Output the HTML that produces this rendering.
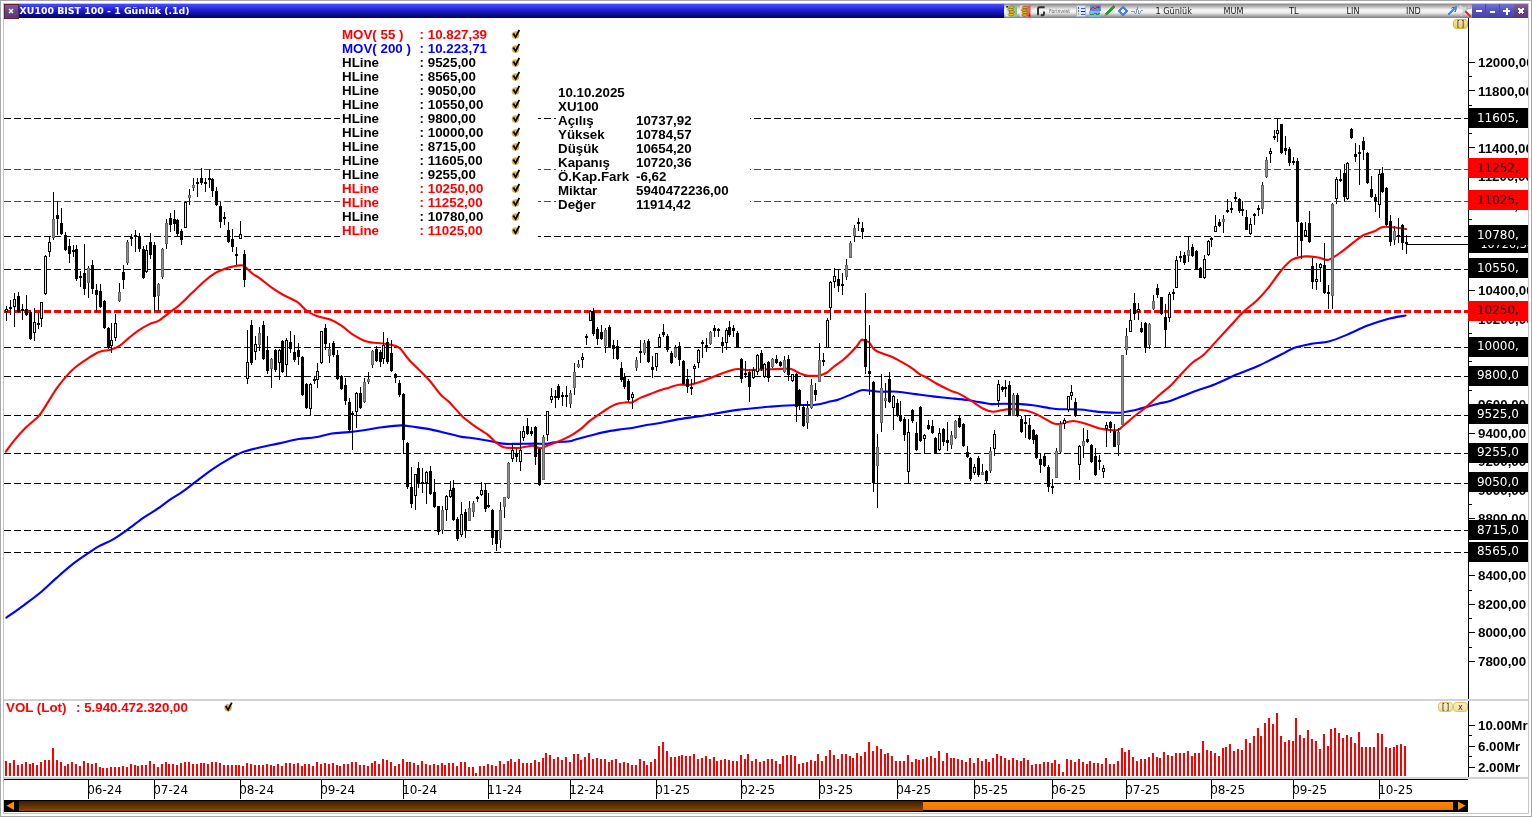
<!DOCTYPE html><html><head><meta charset="utf-8"><title>XU100 BIST 100 - 1 Günlük</title><style>html,body{margin:0;padding:0;background:#fff;overflow:hidden;}body{width:1532px;height:817px;position:relative;}svg{position:absolute;left:0;top:0;display:block;will-change:transform;}svg text{white-space:pre;}</style></head><body><svg width="1532" height="817" viewBox="0 0 1532 817" shape-rendering="crispEdges"><rect x="0" y="0" width="1532" height="817" fill="#ffffff"/><rect x="0.5" y="0.5" width="1531" height="816" fill="none" stroke="#a8a8a8" stroke-width="1"/><rect x="3.5" y="3.5" width="1525" height="810" fill="none" stroke="#c4c4c4" stroke-width="1"/><defs><clipPath id="cp"><rect x="4" y="18" width="1464" height="681"/></clipPath><clipPath id="cv"><rect x="4" y="701" width="1464" height="76"/></clipPath><clipPath id="cax"><rect x="1469" y="18" width="59" height="681"/></clipPath><clipPath id="cbx"><rect x="1469" y="18" width="50" height="681"/></clipPath><linearGradient id="gt" x1="0" y1="0" x2="0" y2="1"><stop offset="0" stop-color="#4c4cff"/><stop offset="0.45" stop-color="#1e1ed0"/><stop offset="1" stop-color="#00005a"/></linearGradient><linearGradient id="gtb" x1="0" y1="0" x2="0" y2="1"><stop offset="0" stop-color="#8a8a8a"/><stop offset="0.18" stop-color="#b8b8b8"/><stop offset="0.42" stop-color="#f6f6f6"/><stop offset="0.62" stop-color="#eeeeee"/><stop offset="0.85" stop-color="#a8a8a8"/><stop offset="1" stop-color="#7c7c7c"/></linearGradient><linearGradient id="gbtn" x1="0" y1="0" x2="0" y2="1"><stop offset="0" stop-color="#7474d4"/><stop offset="0.5" stop-color="#5252b8"/><stop offset="1" stop-color="#4040a8"/></linearGradient><linearGradient id="gcls" x1="0" y1="0" x2="0" y2="1"><stop offset="0" stop-color="#86609e"/><stop offset="0.5" stop-color="#684486"/><stop offset="1" stop-color="#5a3878"/></linearGradient><linearGradient id="gbr" x1="0" y1="0" x2="0" y2="1"><stop offset="0" stop-color="#3e1e00"/><stop offset="1" stop-color="#8c4600"/></linearGradient><linearGradient id="gor" x1="0" y1="0" x2="0" y2="1"><stop offset="0" stop-color="#ff8400"/><stop offset="1" stop-color="#ee7600"/></linearGradient><linearGradient id="gyb" x1="0" y1="0" x2="0" y2="1"><stop offset="0" stop-color="#fbf0c4"/><stop offset="1" stop-color="#f2dc98"/></linearGradient><linearGradient id="gyb2" x1="0" y1="0" x2="0" y2="1"><stop offset="0" stop-color="#f8e6a0"/><stop offset="1" stop-color="#e8c860"/></linearGradient></defs><rect x="4" y="4" width="1000" height="14" fill="url(#gt)"/><rect x="4" y="4" width="14" height="14" fill="url(#gcls)" stroke="#6a2030" stroke-width="1"/><path d="M9 9 L13 13 M13 9 L9 13" stroke="#ffffff" stroke-width="1.5" shape-rendering="geometricPrecision"/><text x="19.6" y="14" font-family="DejaVu Sans, sans-serif" font-weight="bold" font-size="9.37" fill="#ffffff">XU100 BIST 100 - 1 Günlük (.1d)</text><rect x="1004" y="4" width="468" height="14" fill="url(#gtb)"/><rect x="1472" y="4" width="42" height="14" fill="url(#gbtn)"/><rect x="1485" y="4" width="1" height="14" fill="#4848b0"/><rect x="1499" y="4" width="1" height="14" fill="#4848b0"/><rect x="1514" y="4" width="14" height="14" fill="url(#gcls)"/><rect x="1476" y="10" width="6" height="2" fill="#ffffff"/><rect x="1490" y="11" width="5" height="2" fill="#ffffff"/><rect x="1503" y="10" width="7" height="2" fill="#ffffff"/><rect x="1505.5" y="7.5" width="2" height="7" fill="#ffffff"/><path d="M1518.5 8.5 L1523.5 13.5 M1523.5 8.5 L1518.5 13.5" stroke="#ffffff" stroke-width="1.8"/><g shape-rendering="geometricPrecision"><defs><linearGradient id="ggi" x1="0" y1="0" x2="1" y2="0"><stop offset="0" stop-color="#eaf6ea"/><stop offset="1" stop-color="#7cc07c"/></linearGradient><linearGradient id="gri" x1="0" y1="0" x2="1" y2="0"><stop offset="0" stop-color="#ffe4e4"/><stop offset="1" stop-color="#f04848"/></linearGradient></defs><rect x="1005.5" y="5.5" width="11.5" height="11" fill="url(#ggi)"/><ellipse cx="1011.5" cy="7.2" rx="2.8" ry="1.3" fill="#f0c020" stroke="#6a5010" stroke-width="0.6"/><ellipse cx="1010.5" cy="9.6" rx="2.8" ry="1.3" fill="#f0c020" stroke="#6a5010" stroke-width="0.6"/><ellipse cx="1011.8" cy="12" rx="2.8" ry="1.3" fill="#f0c020" stroke="#6a5010" stroke-width="0.6"/><ellipse cx="1011" cy="14.6" rx="2.8" ry="1.3" fill="#f0c020" stroke="#6a5010" stroke-width="0.6"/><path d="M1006 6 L1008.5 6 L1007 8.5 Z" fill="#202020"/><rect x="1020" y="5.5" width="10.5" height="11" fill="url(#gri)"/><ellipse cx="1025" cy="7.6" rx="2.8" ry="1.3" fill="#e0b020" stroke="#6a5010" stroke-width="0.6"/><ellipse cx="1024.2" cy="10.2" rx="2.8" ry="1.3" fill="#e0b020" stroke="#6a5010" stroke-width="0.6"/><ellipse cx="1025.2" cy="12.6" rx="2.8" ry="1.3" fill="#e0b020" stroke="#6a5010" stroke-width="0.6"/><ellipse cx="1024.6" cy="15" rx="2.8" ry="1.3" fill="#e0b020" stroke="#6a5010" stroke-width="0.6"/><path d="M1028 16.5 L1029.5 13 L1030.5 16.5 Z" fill="#e00000"/><path d="M1038 15.2 L1038 8.8 Q1038 7.3 1039.5 7.3 L1044.6 7.3" stroke="#2c2c2c" stroke-width="1.9" fill="none" stroke-linejoin="round"/><path d="M1040.8 15.2 L1042.4 15.2 Q1044 15.2 1044 13.6 L1044 11.6" stroke="#2c2c2c" stroke-width="1.9" fill="none"/></g><text x="1049" y="13" font-family="DejaVu Sans, sans-serif" font-size="5.6" textLength="21" lengthAdjust="spacingAndGlyphs" fill="#606060">Forinvest</text><rect x="1076.5" y="5.5" width="9" height="10.5" fill="#dbe6f5" stroke="#a8b8d0" stroke-width="1"/><circle cx="1078.5" cy="8" r="1.1" fill="#3050d0"/><circle cx="1078.5" cy="11" r="1.1" fill="#e05030"/><circle cx="1078.5" cy="14" r="1.1" fill="#e0c020"/><rect x="1080.5" y="7.5" width="4" height="1" fill="#4060a0"/><rect x="1080.5" y="10.5" width="4" height="1.5" fill="#203060"/><rect x="1080.5" y="13.5" width="4" height="1" fill="#4060a0"/><rect x="1089.5" y="5" width="11" height="5.5" fill="#5c8ae0"/><rect x="1089" y="11" width="11" height="5.5" fill="#8cb0ec"/><path d="M1090 9.5 L1093 7.5 L1095 9 L1098 6.5 L1100 8" stroke="#e02020" stroke-width="1" fill="none"/><path d="M1090 14 L1093 15 L1095 13.5 L1098 14.5 L1100 13" stroke="#20a020" stroke-width="1" fill="none"/><path d="M1104 16.5 L1105 13.5 L1112.5 6 L1114.5 8 L1107 15.5 Z" fill="#22a030"/><path d="M1112.5 6 L1113.5 5 L1115.5 7 L1114.5 8 Z" fill="#e04040"/><path d="M1104 16.5 L1105 13.5 L1107 15.5 Z" fill="#f08040"/><path d="M1122.5 5.5 L1128 11 L1122.5 16.5 L1117 11 Z" fill="#5080e0"/><path d="M1122.5 8.5 L1125 11 L1122.5 13.5 L1120 11 Z" fill="#f4f4f4"/><path d="M1131 11 L1134 11 L1135.5 13.5 L1137.5 6.5 L1139 14 L1140.5 10.5 L1142.5 9.5" stroke="#7890b8" stroke-width="0.9" fill="none"/><text x="1155.5" y="14.3" font-family="DejaVu Sans Condensed, DejaVu Sans, sans-serif" font-stretch="condensed" font-size="9" fill="#202020">1 Günlük</text><text x="1223.5" y="14.3" font-family="DejaVu Sans Condensed, DejaVu Sans, sans-serif" font-stretch="condensed" font-size="9" fill="#202020">MUM</text><text x="1289" y="14.3" font-family="DejaVu Sans Condensed, DejaVu Sans, sans-serif" font-stretch="condensed" font-size="9" fill="#202020">TL</text><text x="1346.5" y="14.3" font-family="DejaVu Sans Condensed, DejaVu Sans, sans-serif" font-stretch="condensed" font-size="9" fill="#202020">LIN</text><text x="1406" y="14.3" font-family="DejaVu Sans Condensed, DejaVu Sans, sans-serif" font-stretch="condensed" font-size="9" fill="#202020">IND</text><path d="M1448 15 L1453.5 9.5 L1451.5 7.5 L1456.5 6.5 L1455.5 11.5 L1453.5 9.5" fill="#4a88e8" stroke="#2a68c8" stroke-width="0.6"/><path d="M1448 15 L1453.5 9.5" stroke="#4a88e8" stroke-width="2.2"/><path d="M1460 6 L1471 17" stroke="#d8d8d8" stroke-width="1.8"/><path d="M1460 16 L1468 8" stroke="#c8c8c8" stroke-width="1.5"/><path d="M1465.5 11.5 L1471 17" stroke="#e03828" stroke-width="2.4"/><circle cx="1469" cy="7" r="1.6" fill="none" stroke="#b0b0b0" stroke-width="1"/><rect x="4" y="699" width="1524" height="2" fill="#d2d2d2"/><rect x="4" y="777" width="1524" height="2" fill="#d2d2d2"/><rect x="4" y="779" width="1464" height="1" fill="#000000"/><rect x="1468" y="18" width="1" height="681" fill="#000"/><rect x="1468" y="701" width="1" height="76" fill="#000"/><g clip-path="url(#cp)"><line x1="4" y1="118.5" x2="1468" y2="118.5" stroke="#000" stroke-width="1" stroke-dasharray="7 3"/><line x1="4" y1="169.5" x2="1468" y2="169.5" stroke="#ff0000" stroke-width="1" stroke-dasharray="7 3"/><line x1="4" y1="201.5" x2="1468" y2="201.5" stroke="#ff0000" stroke-width="1" stroke-dasharray="7 3"/><line x1="4" y1="236.5" x2="1468" y2="236.5" stroke="#000" stroke-width="1" stroke-dasharray="7 3"/><line x1="4" y1="269.5" x2="1468" y2="269.5" stroke="#000" stroke-width="1" stroke-dasharray="7 3"/><line x1="4" y1="347.5" x2="1468" y2="347.5" stroke="#000" stroke-width="1" stroke-dasharray="7 3"/><line x1="4" y1="376.5" x2="1468" y2="376.5" stroke="#000" stroke-width="1" stroke-dasharray="7 3"/><line x1="4" y1="415.5" x2="1468" y2="415.5" stroke="#000" stroke-width="1" stroke-dasharray="7 3"/><line x1="4" y1="453.5" x2="1468" y2="453.5" stroke="#000" stroke-width="1" stroke-dasharray="7 3"/><line x1="4" y1="483.5" x2="1468" y2="483.5" stroke="#000" stroke-width="1" stroke-dasharray="7 3"/><line x1="4" y1="530.5" x2="1468" y2="530.5" stroke="#000" stroke-width="1" stroke-dasharray="7 3"/><line x1="4" y1="552.5" x2="1468" y2="552.5" stroke="#000" stroke-width="1" stroke-dasharray="7 3"/><line x1="4" y1="311.5" x2="1468" y2="311.5" stroke="#ff0000" stroke-width="3" stroke-dasharray="7 3"/></g><rect x="340" y="22" width="198" height="217" fill="#ffffff"/><rect x="556" y="82" width="194" height="131" fill="#ffffff"/><g clip-path="url(#cp)"><path d="M6.4,617.7 C9.4,615.55 18.62,609.08 24.4,604.8 C30.18,600.52 35.73,596.48 41.1,592 C46.47,587.52 51.23,582.62 56.6,577.9 C61.97,573.18 67.95,567.87 73.3,563.7 C78.65,559.53 84.42,555.82 88.7,552.9 C92.98,549.98 94.93,548.47 99,546.2 C103.07,543.93 108.38,542.03 113.1,539.3 C117.82,536.57 122.15,533.45 127.3,529.8 C132.45,526.15 138.87,520.97 144,517.4 C149.13,513.83 153.82,511.32 158.1,508.4 C162.38,505.48 165.62,502.68 169.7,499.9 C173.78,497.12 178.32,494.7 182.6,491.7 C186.88,488.7 190.27,485.75 195.4,481.9 C200.53,478.05 207.83,472.4 213.4,468.6 C218.97,464.8 223.87,461.85 228.8,459.1 C233.73,456.35 237.85,454.03 243,452.1 C248.15,450.17 253.7,448.95 259.7,447.5 C265.7,446.05 272.53,444.82 279,443.4 C285.47,441.98 292.47,440.02 298.5,439 C304.53,437.98 309.63,438.22 315.2,437.3 C320.77,436.38 326.33,434.37 331.9,433.5 C337.47,432.63 343.03,432.68 348.6,432.1 C354.17,431.52 359.73,430.8 365.3,430 C370.87,429.2 376.08,428.07 382,427.3 C387.92,426.53 395.57,425.48 400.8,425.4 C406.03,425.32 408.87,426.22 413.4,426.8 C417.93,427.38 422.78,427.92 428,428.9 C433.22,429.88 439.13,431.37 444.7,432.7 C450.27,434.03 457.18,436.07 461.4,436.9 C465.62,437.73 465.52,437.07 470,437.7 C474.48,438.33 482.87,439.72 488.3,440.7 C493.73,441.68 498.03,443.07 502.6,443.6 C507.17,444.13 512.43,443.87 515.7,443.9 C518.97,443.93 518.93,443.85 522.2,443.8 C525.47,443.75 531.48,443.58 535.3,443.6 C539.12,443.62 541.83,444.12 545.1,443.9 C548.37,443.68 550.77,442.73 554.9,442.3 C559.03,441.87 566.6,441.72 569.9,441.3 C573.2,440.88 571.45,440.72 574.7,439.8 C577.95,438.88 584.5,437.08 589.4,435.8 C594.3,434.52 599.22,433.13 604.1,432.1 C608.98,431.07 613.82,430.33 618.7,429.6 C623.58,428.87 628.5,428.5 633.4,427.7 C638.3,426.9 643.67,425.58 648.1,424.8 C652.53,424.02 655.25,423.87 660,423 C664.75,422.13 669.2,420.85 676.6,419.6 C684,418.35 694.22,417.12 704.4,415.5 C714.58,413.88 726.6,411.38 737.7,409.9 C748.8,408.42 761.75,407.38 771,406.6 C780.25,405.82 785.8,405.52 793.2,405.2 C800.6,404.88 809.27,405.3 815.4,404.7 C821.53,404.1 826.12,402.48 830,401.6 C833.88,400.72 835.1,400.63 838.7,399.4 C842.3,398.17 847.83,395.72 851.6,394.2 C855.37,392.68 858.43,390.92 861.3,390.3 C864.17,389.68 865.68,390.27 868.8,390.5 C871.92,390.73 875.2,391.5 880,391.7 C884.8,391.9 891.72,391.3 897.6,391.7 C903.48,392.1 909.42,393.32 915.3,394.1 C921.18,394.88 927.03,395.72 932.9,396.4 C938.77,397.08 944.63,397.57 950.5,398.2 C956.37,398.83 962.22,399.37 968.1,400.2 C973.98,401.03 981.88,402.55 985.8,403.2 C989.72,403.85 988.67,404.02 991.6,404.1 C994.53,404.18 998.5,403.7 1003.4,403.7 C1008.3,403.7 1016.1,403.85 1021,404.1 C1025.9,404.35 1027.9,404.52 1032.8,405.2 C1037.7,405.88 1045.87,407.53 1050.4,408.2 C1054.93,408.87 1055.07,408.98 1060,409.2 C1064.93,409.42 1074.67,409.2 1080,409.5 C1085.33,409.8 1088.37,410.57 1092,411 C1095.63,411.43 1097.13,411.82 1101.8,412.1 C1106.47,412.38 1115.3,412.88 1120,412.7 C1124.7,412.52 1126.95,411.58 1130,411 C1133.05,410.42 1134.97,410.03 1138.3,409.2 C1141.63,408.37 1146.4,406.98 1150,406 C1153.6,405.02 1156.4,404.18 1159.9,403.3 C1163.4,402.42 1165.48,402.6 1171,400.7 C1176.52,398.8 1185.65,394.65 1193,391.9 C1200.35,389.15 1207.75,387.13 1215.1,384.2 C1222.45,381.27 1229.77,377.42 1237.1,374.3 C1244.43,371.18 1251.77,368.8 1259.1,365.5 C1266.43,362.2 1275.22,357.45 1281.1,354.5 C1286.98,351.55 1289.62,349.53 1294.4,347.8 C1299.18,346.07 1303.93,345.2 1309.8,344.1 C1315.67,343 1323.37,342.78 1329.6,341.2 C1335.83,339.62 1340.97,337.17 1347.2,334.6 C1353.43,332.03 1360.38,328.37 1367,325.8 C1373.62,323.23 1380.47,320.92 1386.9,319.2 C1393.33,317.48 1402.48,316.12 1405.6,315.5" fill="none" stroke="#0000ff" stroke-width="2.1" stroke-linejoin="round" stroke-linecap="round" shape-rendering="geometricPrecision"/><path d="M5.9,451.7 C7.17,449.97 10.22,445.28 13.5,441.3 C16.78,437.32 21.35,432.07 25.6,427.8 C29.85,423.53 35.42,419.73 39,415.7 C42.58,411.67 44.17,408.1 47.1,403.6 C50.03,399.1 53.45,393.2 56.6,388.7 C59.75,384.2 62.87,380.18 66,376.6 C69.13,373.02 71.58,370.33 75.4,367.2 C79.22,364.07 84.85,360.37 88.9,357.8 C92.95,355.23 96.1,353.15 99.7,351.8 C103.3,350.45 107.13,350.73 110.5,349.7 C113.87,348.67 116.77,347.62 119.9,345.6 C123.03,343.58 126.17,340.15 129.3,337.6 C132.43,335.05 135.33,332.55 138.7,330.3 C142.07,328.05 146.13,325.72 149.5,324.1 C152.87,322.48 155.75,322.4 158.9,320.6 C162.05,318.8 165.02,315.87 168.4,313.3 C171.78,310.73 175.38,308.48 179.2,305.2 C183.02,301.92 187.05,297.63 191.3,293.6 C195.55,289.57 200.67,284.45 204.7,281 C208.73,277.55 211.9,275.02 215.5,272.9 C219.1,270.78 223.38,269.37 226.3,268.3 C229.22,267.23 230.67,266.98 233,266.5 C235.33,266.02 238.42,265.45 240.3,265.4 C242.18,265.35 242.3,264.85 244.3,266.2 C246.3,267.55 249.65,271.43 252.3,273.5 C254.95,275.57 257.02,276.28 260.2,278.6 C263.38,280.92 267.68,284.75 271.4,287.4 C275.12,290.05 278.27,292.12 282.5,294.5 C286.73,296.88 292.82,299.03 296.8,301.7 C300.78,304.37 303.08,308.12 306.4,310.5 C309.72,312.88 312.73,314.5 316.7,316 C320.67,317.5 326.08,317.9 330.2,319.5 C334.32,321.1 337.68,323.13 341.4,325.6 C345.12,328.07 348.27,331.65 352.5,334.3 C356.73,336.95 361.77,339.97 366.8,341.5 C371.83,343.03 378.18,342.83 382.7,343.5 C387.22,344.17 390.98,344.65 393.9,345.5 C396.82,346.35 397.65,346.18 400.2,348.6 C402.75,351.02 404.57,354.97 409.2,360 C413.83,365.03 422.78,373.05 428,378.8 C433.22,384.55 437.02,390.67 440.5,394.5 C443.98,398.33 445.42,398.32 448.9,401.8 C452.38,405.28 457.88,411.92 461.4,415.4 C464.92,418.88 467.48,420.72 470,422.7 C472.52,424.68 473.45,425.23 476.5,427.3 C479.55,429.37 485.03,432.55 488.3,435.1 C491.57,437.65 493.5,440.58 496.1,442.6 C498.7,444.62 501.18,446.32 503.9,447.2 C506.62,448.08 509.57,447.82 512.4,447.9 C515.23,447.98 518.18,447.98 520.9,447.7 C523.62,447.42 526.63,446.5 528.7,446.2 C530.77,445.9 531.67,445.62 533.3,445.9 C534.93,446.18 536.97,447.57 538.5,447.9 C540.03,448.23 540.87,448.35 542.5,447.9 C544.13,447.45 545.92,446.18 548.3,445.2 C550.68,444.22 553.2,443.52 556.8,442 C560.4,440.48 565.93,438.23 569.9,436.1 C573.87,433.97 577.35,431.7 580.6,429.2 C583.85,426.7 586.47,423.48 589.4,421.1 C592.33,418.72 595.27,416.92 598.2,414.9 C601.13,412.88 604.07,410.78 607,409 C609.93,407.22 612.62,405.3 615.8,404.2 C618.98,403.1 623.4,402.7 626.1,402.4 C628.8,402.1 629.55,403.2 632,402.4 C634.45,401.6 637.87,398.95 640.8,397.6 C643.73,396.25 646.4,395.52 649.6,394.3 C652.8,393.08 656.78,391.4 660,390.3 C663.22,389.2 665.75,388.63 668.9,387.7 C672.05,386.77 675.38,385.2 678.9,384.7 C682.42,384.2 685.75,385.4 690,384.7 C694.25,384 699.78,382.12 704.4,380.5 C709.02,378.88 712.52,376.88 717.7,375 C722.88,373.12 730.32,370.03 735.5,369.2 C740.68,368.37 743.82,369.97 748.8,370 C753.78,370.03 759.85,369.58 765.4,369.4 C770.95,369.22 777.83,368.98 782.1,368.9 C786.37,368.82 788.23,368.25 791,368.9 C793.77,369.55 796.12,371.7 798.7,372.8 C801.28,373.9 803.35,374.98 806.5,375.5 C809.65,376.02 815.35,375.9 817.6,375.9 C819.85,375.9 818.43,376.07 820,375.5 C821.57,374.93 824.67,374 827,372.5 C829.33,371 831.33,368.58 834,366.5 C836.67,364.42 840.25,362.25 843,360 C845.75,357.75 848.17,355.33 850.5,353 C852.83,350.67 855.18,348.2 857,346 C858.82,343.8 860.07,340.63 861.4,339.8 C862.73,338.97 863.73,340.58 865,341 C866.27,341.42 867.67,341.13 869,342.3 C870.33,343.47 871.75,346.55 873,348 C874.25,349.45 874.67,350 876.5,351 C878.33,352 881.45,353.03 884,354 C886.55,354.97 889.08,355.58 891.8,356.8 C894.52,358.02 897.03,359.45 900.3,361.3 C903.57,363.15 908.13,365.72 911.4,367.9 C914.67,370.08 917.68,372.97 919.9,374.4 C922.12,375.83 921.95,374.98 924.7,376.5 C927.45,378.02 932.1,381.15 936.4,383.5 C940.7,385.85 946.58,388.83 950.5,390.6 C954.42,392.37 956.37,392.35 959.9,394.1 C963.43,395.85 967.78,398.65 971.7,401.1 C975.62,403.55 979.88,407.03 983.4,408.8 C986.92,410.57 989.87,411.45 992.8,411.7 C995.73,411.95 998.25,410.73 1001,410.3 C1003.75,409.87 1006.75,409.25 1009.3,409.1 C1011.85,408.95 1013.37,409.12 1016.3,409.4 C1019.23,409.68 1023.57,410.02 1026.9,410.8 C1030.23,411.58 1032.97,412.58 1036.3,414.1 C1039.63,415.62 1043.97,418.33 1046.9,419.9 C1049.83,421.47 1051.72,422.82 1053.9,423.5 C1056.08,424.18 1056.82,424.42 1060,424 C1063.18,423.58 1068.83,421.08 1073,421 C1077.17,420.92 1080.5,422.25 1085,423.5 C1089.5,424.75 1095.83,427.42 1100,428.5 C1104.17,429.58 1107,429.75 1110,430 C1113,430.25 1115.83,430.67 1118,430 C1120.17,429.33 1120,428.5 1123,426 C1126,423.5 1132.33,418 1136,415 C1139.67,412 1141,411.42 1145,408 C1149,404.58 1155.67,398.28 1160,394.5 C1164.33,390.72 1167.33,388.85 1171,385.3 C1174.67,381.75 1178.33,377.05 1182,373.2 C1185.67,369.35 1189.33,365.32 1193,362.2 C1196.67,359.08 1199.95,358.18 1204,354.5 C1208.05,350.82 1212.88,344.88 1217.3,340.1 C1221.72,335.32 1226.1,330.57 1230.5,325.8 C1234.9,321.03 1239.3,315.72 1243.7,311.5 C1248.1,307.28 1252.87,304.35 1256.9,300.5 C1260.93,296.65 1263.87,293.37 1267.9,288.4 C1271.93,283.43 1277.05,275.48 1281.1,270.7 C1285.15,265.92 1288.15,262.08 1292.2,259.7 C1296.25,257.32 1301,256.77 1305.4,256.4 C1309.8,256.03 1314.75,256.95 1318.6,257.5 C1322.45,258.05 1324.47,260.8 1328.5,259.7 C1332.53,258.6 1338.58,253.83 1342.8,250.9 C1347.02,247.97 1350.6,244.58 1353.8,242.1 C1357,239.62 1359.63,237.43 1362,236 C1364.37,234.57 1365.83,234.33 1368,233.5 C1370.17,232.67 1372.5,232.08 1375,231 C1377.5,229.92 1379.67,227.58 1383,227 C1386.33,226.42 1391.17,227.17 1395,227.5 C1398.83,227.83 1404.17,228.75 1406,229" fill="none" stroke="#ff0000" stroke-width="2.1" stroke-linejoin="round" stroke-linecap="round" shape-rendering="geometricPrecision"/><rect x="6" y="306" width="1" height="15" fill="#000"/><rect x="5" y="309" width="3" height="3" fill="#000"/><rect x="6" y="310" width="1" height="1" fill="#e8e8e8"/><rect x="10" y="300" width="1" height="15" fill="#000"/><rect x="9" y="307" width="3" height="2" fill="#000"/><rect x="14" y="293" width="1" height="34" fill="#000"/><rect x="13" y="299" width="3" height="8" fill="#000"/><rect x="14" y="300" width="1" height="6" fill="#e8e8e8"/><rect x="18" y="292" width="1" height="21" fill="#000"/><rect x="17" y="296" width="3" height="16" fill="#000"/><rect x="22" y="304" width="1" height="16" fill="#000"/><rect x="21" y="309" width="3" height="2" fill="#000"/><rect x="26" y="295" width="1" height="21" fill="#000"/><rect x="25" y="309" width="3" height="6" fill="#000"/><rect x="30" y="310" width="1" height="30" fill="#000"/><rect x="29" y="312" width="3" height="27" fill="#000"/><rect x="34" y="308" width="1" height="33" fill="#000"/><rect x="33" y="322" width="3" height="11" fill="#000"/><rect x="34" y="323" width="1" height="9" fill="#e8e8e8"/><rect x="38" y="313" width="1" height="16" fill="#000"/><rect x="37" y="323" width="3" height="2" fill="#000"/><rect x="41" y="302" width="1" height="25" fill="#000"/><rect x="40" y="302" width="3" height="17" fill="#000"/><rect x="41" y="303" width="1" height="15" fill="#e8e8e8"/><rect x="45" y="255" width="1" height="40" fill="#000"/><rect x="44" y="256" width="3" height="38" fill="#000"/><rect x="45" y="257" width="1" height="36" fill="#e8e8e8"/><rect x="49" y="237" width="1" height="20" fill="#000"/><rect x="48" y="242" width="3" height="10" fill="#000"/><rect x="49" y="243" width="1" height="8" fill="#e8e8e8"/><rect x="53" y="192" width="1" height="48" fill="#000"/><rect x="52" y="219" width="3" height="19" fill="#686868"/><rect x="53" y="220" width="1" height="17" fill="#909090"/><rect x="57" y="201" width="1" height="34" fill="#000"/><rect x="56" y="215" width="3" height="4" fill="#000"/><rect x="61" y="208" width="1" height="27" fill="#000"/><rect x="60" y="223" width="3" height="11" fill="#000"/><rect x="65" y="232" width="1" height="19" fill="#000"/><rect x="64" y="235" width="3" height="15" fill="#000"/><rect x="69" y="239" width="1" height="24" fill="#000"/><rect x="68" y="246" width="3" height="8" fill="#000"/><rect x="73" y="245" width="1" height="12" fill="#000"/><rect x="72" y="250" width="3" height="2" fill="#000"/><rect x="76" y="245" width="1" height="36" fill="#000"/><rect x="75" y="249" width="3" height="30" fill="#000"/><rect x="80" y="271" width="1" height="16" fill="#000"/><rect x="79" y="276" width="3" height="2" fill="#000"/><rect x="84" y="244" width="1" height="51" fill="#000"/><rect x="83" y="273" width="3" height="16" fill="#000"/><rect x="88" y="266" width="1" height="32" fill="#000"/><rect x="87" y="268" width="3" height="15" fill="#686868"/><rect x="88" y="269" width="1" height="13" fill="#909090"/><rect x="92" y="260" width="1" height="34" fill="#000"/><rect x="91" y="265" width="3" height="24" fill="#000"/><rect x="96" y="284" width="1" height="28" fill="#000"/><rect x="95" y="290" width="3" height="5" fill="#000"/><rect x="100" y="284" width="1" height="24" fill="#000"/><rect x="99" y="291" width="3" height="16" fill="#000"/><rect x="104" y="300" width="1" height="29" fill="#000"/><rect x="103" y="301" width="3" height="27" fill="#000"/><rect x="108" y="327" width="1" height="22" fill="#000"/><rect x="107" y="328" width="3" height="19" fill="#000"/><rect x="111" y="323" width="1" height="30" fill="#000"/><rect x="110" y="340" width="3" height="6" fill="#000"/><rect x="111" y="341" width="1" height="4" fill="#e8e8e8"/><rect x="115" y="314" width="1" height="27" fill="#000"/><rect x="114" y="323" width="3" height="15" fill="#000"/><rect x="115" y="324" width="1" height="13" fill="#e8e8e8"/><rect x="119" y="283" width="1" height="19" fill="#000"/><rect x="118" y="292" width="3" height="9" fill="#686868"/><rect x="119" y="293" width="1" height="7" fill="#909090"/><rect x="123" y="265" width="1" height="24" fill="#000"/><rect x="122" y="272" width="3" height="8" fill="#000"/><rect x="127" y="240" width="1" height="25" fill="#000"/><rect x="126" y="242" width="3" height="21" fill="#686868"/><rect x="127" y="243" width="1" height="19" fill="#909090"/><rect x="131" y="234" width="1" height="12" fill="#000"/><rect x="130" y="237" width="3" height="2" fill="#000"/><rect x="135" y="230" width="1" height="22" fill="#000"/><rect x="134" y="235" width="3" height="2" fill="#000"/><rect x="139" y="233" width="1" height="19" fill="#000"/><rect x="138" y="236" width="3" height="13" fill="#000"/><rect x="143" y="246" width="1" height="33" fill="#000"/><rect x="142" y="249" width="3" height="29" fill="#000"/><rect x="146" y="245" width="1" height="28" fill="#000"/><rect x="145" y="250" width="3" height="22" fill="#000"/><rect x="146" y="251" width="1" height="20" fill="#e8e8e8"/><rect x="150" y="233" width="1" height="26" fill="#000"/><rect x="149" y="242" width="3" height="13" fill="#000"/><rect x="154" y="242" width="1" height="69" fill="#000"/><rect x="153" y="245" width="3" height="52" fill="#000"/><rect x="158" y="283" width="1" height="28" fill="#000"/><rect x="157" y="284" width="3" height="12" fill="#686868"/><rect x="158" y="285" width="1" height="10" fill="#909090"/><rect x="162" y="248" width="1" height="31" fill="#000"/><rect x="161" y="249" width="3" height="28" fill="#686868"/><rect x="162" y="250" width="1" height="26" fill="#909090"/><rect x="166" y="219" width="1" height="30" fill="#000"/><rect x="165" y="223" width="3" height="21" fill="#686868"/><rect x="166" y="224" width="1" height="19" fill="#909090"/><rect x="170" y="213" width="1" height="19" fill="#000"/><rect x="169" y="218" width="3" height="7" fill="#000"/><rect x="174" y="210" width="1" height="21" fill="#000"/><rect x="173" y="219" width="3" height="5" fill="#000"/><rect x="177" y="219" width="1" height="17" fill="#000"/><rect x="176" y="220" width="3" height="14" fill="#000"/><rect x="181" y="229" width="1" height="16" fill="#000"/><rect x="180" y="231" width="3" height="9" fill="#000"/><rect x="185" y="201" width="1" height="27" fill="#000"/><rect x="184" y="202" width="3" height="26" fill="#000"/><rect x="185" y="203" width="1" height="24" fill="#e8e8e8"/><rect x="189" y="189" width="1" height="16" fill="#000"/><rect x="188" y="195" width="3" height="3" fill="#686868"/><rect x="189" y="196" width="1" height="1" fill="#909090"/><rect x="193" y="178" width="1" height="13" fill="#000"/><rect x="192" y="185" width="3" height="3" fill="#686868"/><rect x="193" y="186" width="1" height="1" fill="#909090"/><rect x="197" y="178" width="1" height="19" fill="#000"/><rect x="196" y="182" width="3" height="2" fill="#000"/><rect x="201" y="168" width="1" height="17" fill="#000"/><rect x="200" y="178" width="3" height="5" fill="#000"/><rect x="205" y="178" width="1" height="14" fill="#000"/><rect x="204" y="182" width="3" height="2" fill="#000"/><rect x="209" y="169" width="1" height="19" fill="#000"/><rect x="208" y="178" width="3" height="2" fill="#000"/><rect x="212" y="178" width="1" height="19" fill="#000"/><rect x="211" y="179" width="3" height="12" fill="#000"/><rect x="216" y="187" width="1" height="19" fill="#000"/><rect x="215" y="191" width="3" height="14" fill="#000"/><rect x="220" y="202" width="1" height="26" fill="#000"/><rect x="219" y="206" width="3" height="16" fill="#000"/><rect x="224" y="212" width="1" height="13" fill="#000"/><rect x="223" y="217" width="3" height="2" fill="#000"/><rect x="228" y="222" width="1" height="21" fill="#000"/><rect x="227" y="230" width="3" height="12" fill="#000"/><rect x="232" y="229" width="1" height="23" fill="#000"/><rect x="231" y="239" width="3" height="8" fill="#000"/><rect x="236" y="247" width="1" height="18" fill="#000"/><rect x="235" y="254" width="3" height="2" fill="#000"/><rect x="240" y="221" width="1" height="18" fill="#000"/><rect x="239" y="234" width="3" height="5" fill="#000"/><rect x="240" y="235" width="1" height="3" fill="#e8e8e8"/><rect x="244" y="250" width="1" height="37" fill="#000"/><rect x="243" y="254" width="3" height="26" fill="#000"/><rect x="247" y="330" width="1" height="54" fill="#000"/><rect x="246" y="362" width="3" height="17" fill="#000"/><rect x="247" y="363" width="1" height="15" fill="#e8e8e8"/><rect x="251" y="320" width="1" height="45" fill="#000"/><rect x="250" y="325" width="3" height="38" fill="#000"/><rect x="255" y="336" width="1" height="24" fill="#000"/><rect x="254" y="344" width="3" height="8" fill="#000"/><rect x="255" y="345" width="1" height="6" fill="#e8e8e8"/><rect x="259" y="327" width="1" height="24" fill="#000"/><rect x="258" y="333" width="3" height="12" fill="#686868"/><rect x="259" y="334" width="1" height="10" fill="#909090"/><rect x="263" y="321" width="1" height="39" fill="#000"/><rect x="262" y="325" width="3" height="34" fill="#000"/><rect x="267" y="336" width="1" height="38" fill="#000"/><rect x="266" y="350" width="3" height="21" fill="#000"/><rect x="271" y="358" width="1" height="30" fill="#000"/><rect x="270" y="359" width="3" height="10" fill="#686868"/><rect x="271" y="360" width="1" height="8" fill="#909090"/><rect x="275" y="349" width="1" height="23" fill="#000"/><rect x="274" y="350" width="3" height="20" fill="#000"/><rect x="279" y="349" width="1" height="31" fill="#000"/><rect x="278" y="350" width="3" height="13" fill="#000"/><rect x="279" y="351" width="1" height="11" fill="#e8e8e8"/><rect x="282" y="340" width="1" height="33" fill="#000"/><rect x="281" y="341" width="3" height="31" fill="#000"/><rect x="286" y="338" width="1" height="38" fill="#000"/><rect x="285" y="340" width="3" height="25" fill="#000"/><rect x="286" y="341" width="1" height="23" fill="#e8e8e8"/><rect x="290" y="331" width="1" height="22" fill="#000"/><rect x="289" y="342" width="3" height="7" fill="#000"/><rect x="294" y="335" width="1" height="27" fill="#000"/><rect x="293" y="352" width="3" height="8" fill="#000"/><rect x="298" y="343" width="1" height="22" fill="#000"/><rect x="297" y="350" width="3" height="7" fill="#000"/><rect x="302" y="356" width="1" height="40" fill="#000"/><rect x="301" y="357" width="3" height="38" fill="#000"/><rect x="306" y="383" width="1" height="26" fill="#000"/><rect x="305" y="384" width="3" height="24" fill="#000"/><rect x="310" y="383" width="1" height="33" fill="#000"/><rect x="309" y="384" width="3" height="25" fill="#000"/><rect x="310" y="385" width="1" height="23" fill="#e8e8e8"/><rect x="314" y="377" width="1" height="7" fill="#000"/><rect x="313" y="379" width="3" height="2" fill="#000"/><rect x="317" y="363" width="1" height="25" fill="#000"/><rect x="316" y="371" width="3" height="9" fill="#000"/><rect x="317" y="372" width="1" height="7" fill="#e8e8e8"/><rect x="321" y="331" width="1" height="33" fill="#000"/><rect x="320" y="331" width="3" height="32" fill="#000"/><rect x="321" y="332" width="1" height="30" fill="#e8e8e8"/><rect x="325" y="324" width="1" height="26" fill="#000"/><rect x="324" y="328" width="3" height="16" fill="#000"/><rect x="329" y="343" width="1" height="20" fill="#000"/><rect x="328" y="349" width="3" height="7" fill="#686868"/><rect x="329" y="350" width="1" height="5" fill="#909090"/><rect x="333" y="341" width="1" height="16" fill="#000"/><rect x="332" y="343" width="3" height="12" fill="#000"/><rect x="337" y="350" width="1" height="30" fill="#000"/><rect x="336" y="355" width="3" height="24" fill="#000"/><rect x="341" y="375" width="1" height="15" fill="#000"/><rect x="340" y="376" width="3" height="13" fill="#000"/><rect x="345" y="378" width="1" height="27" fill="#000"/><rect x="344" y="385" width="3" height="16" fill="#000"/><rect x="349" y="398" width="1" height="34" fill="#000"/><rect x="348" y="402" width="3" height="28" fill="#000"/><rect x="352" y="411" width="1" height="39" fill="#000"/><rect x="351" y="413" width="3" height="2" fill="#000"/><rect x="356" y="392" width="1" height="36" fill="#000"/><rect x="355" y="393" width="3" height="19" fill="#000"/><rect x="356" y="394" width="1" height="17" fill="#e8e8e8"/><rect x="360" y="387" width="1" height="22" fill="#000"/><rect x="359" y="393" width="3" height="15" fill="#000"/><rect x="364" y="378" width="1" height="25" fill="#000"/><rect x="363" y="382" width="3" height="20" fill="#686868"/><rect x="364" y="383" width="1" height="18" fill="#909090"/><rect x="368" y="372" width="1" height="12" fill="#000"/><rect x="367" y="379" width="3" height="3" fill="#686868"/><rect x="368" y="380" width="1" height="1" fill="#909090"/><rect x="372" y="350" width="1" height="18" fill="#000"/><rect x="371" y="351" width="3" height="14" fill="#686868"/><rect x="372" y="352" width="1" height="12" fill="#909090"/><rect x="376" y="346" width="1" height="16" fill="#000"/><rect x="375" y="349" width="3" height="12" fill="#000"/><rect x="380" y="350" width="1" height="17" fill="#000"/><rect x="379" y="352" width="3" height="10" fill="#000"/><rect x="383" y="332" width="1" height="32" fill="#000"/><rect x="382" y="345" width="3" height="14" fill="#000"/><rect x="383" y="346" width="1" height="12" fill="#e8e8e8"/><rect x="387" y="338" width="1" height="26" fill="#000"/><rect x="386" y="342" width="3" height="20" fill="#000"/><rect x="391" y="340" width="1" height="32" fill="#000"/><rect x="390" y="353" width="3" height="18" fill="#000"/><rect x="395" y="373" width="1" height="10" fill="#000"/><rect x="394" y="374" width="3" height="4" fill="#000"/><rect x="399" y="380" width="1" height="17" fill="#000"/><rect x="398" y="383" width="3" height="12" fill="#000"/><rect x="403" y="393" width="1" height="61" fill="#000"/><rect x="402" y="394" width="3" height="46" fill="#000"/><rect x="407" y="442" width="1" height="47" fill="#000"/><rect x="406" y="443" width="3" height="44" fill="#000"/><rect x="411" y="467" width="1" height="41" fill="#000"/><rect x="410" y="487" width="3" height="17" fill="#000"/><rect x="415" y="474" width="1" height="36" fill="#000"/><rect x="414" y="474" width="3" height="22" fill="#000"/><rect x="415" y="475" width="1" height="20" fill="#e8e8e8"/><rect x="418" y="462" width="1" height="26" fill="#000"/><rect x="417" y="468" width="3" height="16" fill="#000"/><rect x="422" y="468" width="1" height="25" fill="#000"/><rect x="421" y="482" width="3" height="2" fill="#000"/><rect x="426" y="471" width="1" height="33" fill="#000"/><rect x="425" y="472" width="3" height="11" fill="#000"/><rect x="426" y="473" width="1" height="9" fill="#e8e8e8"/><rect x="430" y="466" width="1" height="29" fill="#000"/><rect x="429" y="471" width="3" height="23" fill="#000"/><rect x="434" y="479" width="1" height="29" fill="#000"/><rect x="433" y="492" width="3" height="15" fill="#000"/><rect x="438" y="506" width="1" height="29" fill="#000"/><rect x="437" y="506" width="3" height="26" fill="#000"/><rect x="442" y="506" width="1" height="28" fill="#000"/><rect x="441" y="510" width="3" height="20" fill="#686868"/><rect x="442" y="511" width="1" height="18" fill="#909090"/><rect x="446" y="495" width="1" height="26" fill="#000"/><rect x="445" y="496" width="3" height="14" fill="#000"/><rect x="446" y="497" width="1" height="12" fill="#e8e8e8"/><rect x="450" y="481" width="1" height="17" fill="#000"/><rect x="449" y="490" width="3" height="7" fill="#000"/><rect x="450" y="491" width="1" height="5" fill="#e8e8e8"/><rect x="453" y="480" width="1" height="41" fill="#000"/><rect x="452" y="488" width="3" height="32" fill="#000"/><rect x="457" y="517" width="1" height="24" fill="#000"/><rect x="456" y="519" width="3" height="20" fill="#000"/><rect x="461" y="502" width="1" height="35" fill="#000"/><rect x="460" y="514" width="3" height="21" fill="#000"/><rect x="461" y="515" width="1" height="19" fill="#e8e8e8"/><rect x="465" y="509" width="1" height="29" fill="#000"/><rect x="464" y="512" width="3" height="18" fill="#000"/><rect x="469" y="501" width="1" height="20" fill="#000"/><rect x="468" y="508" width="3" height="13" fill="#686868"/><rect x="469" y="509" width="1" height="11" fill="#909090"/><rect x="473" y="501" width="1" height="16" fill="#000"/><rect x="472" y="503" width="3" height="9" fill="#686868"/><rect x="473" y="504" width="1" height="7" fill="#909090"/><rect x="477" y="496" width="1" height="6" fill="#000"/><rect x="476" y="497" width="3" height="2" fill="#000"/><rect x="481" y="482" width="1" height="14" fill="#000"/><rect x="480" y="490" width="3" height="5" fill="#000"/><rect x="481" y="491" width="1" height="3" fill="#e8e8e8"/><rect x="485" y="483" width="1" height="29" fill="#000"/><rect x="484" y="490" width="3" height="19" fill="#000"/><rect x="488" y="493" width="1" height="15" fill="#000"/><rect x="487" y="505" width="3" height="2" fill="#000"/><rect x="492" y="509" width="1" height="36" fill="#000"/><rect x="491" y="510" width="3" height="28" fill="#000"/><rect x="496" y="530" width="1" height="21" fill="#000"/><rect x="495" y="531" width="3" height="13" fill="#000"/><rect x="500" y="502" width="1" height="46" fill="#000"/><rect x="499" y="510" width="3" height="30" fill="#686868"/><rect x="500" y="511" width="1" height="28" fill="#909090"/><rect x="504" y="497" width="1" height="21" fill="#000"/><rect x="503" y="497" width="3" height="10" fill="#686868"/><rect x="504" y="498" width="1" height="8" fill="#909090"/><rect x="508" y="462" width="1" height="37" fill="#000"/><rect x="507" y="463" width="3" height="35" fill="#686868"/><rect x="508" y="464" width="1" height="33" fill="#909090"/><rect x="512" y="443" width="1" height="19" fill="#000"/><rect x="511" y="450" width="3" height="9" fill="#000"/><rect x="512" y="451" width="1" height="7" fill="#e8e8e8"/><rect x="516" y="449" width="1" height="13" fill="#000"/><rect x="515" y="453" width="3" height="4" fill="#000"/><rect x="520" y="431" width="1" height="40" fill="#000"/><rect x="519" y="450" width="3" height="12" fill="#000"/><rect x="520" y="451" width="1" height="10" fill="#e8e8e8"/><rect x="523" y="426" width="1" height="15" fill="#000"/><rect x="522" y="431" width="3" height="7" fill="#000"/><rect x="523" y="432" width="1" height="5" fill="#e8e8e8"/><rect x="527" y="418" width="1" height="17" fill="#000"/><rect x="526" y="426" width="3" height="8" fill="#000"/><rect x="531" y="427" width="1" height="9" fill="#000"/><rect x="530" y="431" width="3" height="3" fill="#000"/><rect x="535" y="426" width="1" height="39" fill="#000"/><rect x="534" y="427" width="3" height="30" fill="#000"/><rect x="539" y="448" width="1" height="38" fill="#000"/><rect x="538" y="449" width="3" height="36" fill="#000"/><rect x="543" y="435" width="1" height="45" fill="#000"/><rect x="542" y="437" width="3" height="43" fill="#686868"/><rect x="543" y="438" width="1" height="41" fill="#909090"/><rect x="547" y="411" width="1" height="30" fill="#000"/><rect x="546" y="411" width="3" height="24" fill="#000"/><rect x="547" y="412" width="1" height="22" fill="#e8e8e8"/><rect x="551" y="388" width="1" height="15" fill="#000"/><rect x="550" y="396" width="3" height="4" fill="#000"/><rect x="551" y="397" width="1" height="2" fill="#e8e8e8"/><rect x="555" y="390" width="1" height="18" fill="#000"/><rect x="554" y="396" width="3" height="2" fill="#000"/><rect x="558" y="384" width="1" height="16" fill="#000"/><rect x="557" y="386" width="3" height="12" fill="#000"/><rect x="562" y="392" width="1" height="14" fill="#000"/><rect x="561" y="395" width="3" height="2" fill="#000"/><rect x="566" y="386" width="1" height="21" fill="#000"/><rect x="565" y="395" width="3" height="2" fill="#000"/><rect x="570" y="390" width="1" height="18" fill="#000"/><rect x="569" y="393" width="3" height="11" fill="#686868"/><rect x="570" y="394" width="1" height="9" fill="#909090"/><rect x="574" y="363" width="1" height="32" fill="#000"/><rect x="573" y="372" width="3" height="16" fill="#686868"/><rect x="574" y="373" width="1" height="14" fill="#909090"/><rect x="578" y="360" width="1" height="8" fill="#000"/><rect x="577" y="364" width="3" height="3" fill="#686868"/><rect x="578" y="365" width="1" height="1" fill="#909090"/><rect x="582" y="353" width="1" height="15" fill="#000"/><rect x="581" y="356.5" width="3" height="3" fill="#000"/><rect x="582" y="357.5" width="1" height="1" fill="#e8e8e8"/><rect x="586" y="334" width="1" height="11" fill="#000"/><rect x="585" y="336" width="3" height="2" fill="#000"/><rect x="590" y="310" width="1" height="11" fill="#000"/><rect x="589" y="311" width="3" height="10" fill="#000"/><rect x="590" y="312" width="1" height="8" fill="#e8e8e8"/><rect x="593" y="308" width="1" height="28" fill="#000"/><rect x="592" y="311" width="3" height="23" fill="#000"/><rect x="597" y="327" width="1" height="18" fill="#000"/><rect x="596" y="329" width="3" height="10" fill="#000"/><rect x="601" y="325" width="1" height="15" fill="#000"/><rect x="600" y="332" width="3" height="7" fill="#000"/><rect x="605" y="328" width="1" height="25" fill="#000"/><rect x="604" y="330" width="3" height="16" fill="#686868"/><rect x="605" y="331" width="1" height="14" fill="#909090"/><rect x="609" y="325" width="1" height="22" fill="#000"/><rect x="608" y="327" width="3" height="20" fill="#000"/><rect x="613" y="340" width="1" height="19" fill="#000"/><rect x="612" y="345" width="3" height="4" fill="#000"/><rect x="617" y="340" width="1" height="20" fill="#000"/><rect x="616" y="346" width="3" height="13" fill="#000"/><rect x="621" y="362" width="1" height="20" fill="#000"/><rect x="620" y="368" width="3" height="12" fill="#000"/><rect x="624" y="373" width="1" height="16" fill="#000"/><rect x="623" y="377" width="3" height="10" fill="#000"/><rect x="628" y="379" width="1" height="23" fill="#000"/><rect x="627" y="381" width="3" height="19" fill="#000"/><rect x="632" y="392" width="1" height="17" fill="#000"/><rect x="631" y="394" width="3" height="4" fill="#000"/><rect x="632" y="395" width="1" height="2" fill="#e8e8e8"/><rect x="636" y="357" width="1" height="14" fill="#000"/><rect x="635" y="360" width="3" height="8" fill="#686868"/><rect x="636" y="361" width="1" height="6" fill="#909090"/><rect x="640" y="340" width="1" height="23" fill="#000"/><rect x="639" y="351" width="3" height="2" fill="#000"/><rect x="644" y="340" width="1" height="15" fill="#000"/><rect x="643" y="343" width="3" height="10" fill="#686868"/><rect x="644" y="344" width="1" height="8" fill="#909090"/><rect x="648" y="339" width="1" height="24" fill="#000"/><rect x="647" y="341" width="3" height="21" fill="#000"/><rect x="652" y="356" width="1" height="22" fill="#000"/><rect x="651" y="367" width="3" height="3" fill="#000"/><rect x="656" y="353" width="1" height="18" fill="#000"/><rect x="655" y="353" width="3" height="14" fill="#000"/><rect x="656" y="354" width="1" height="12" fill="#e8e8e8"/><rect x="659" y="334" width="1" height="14" fill="#000"/><rect x="658" y="337" width="3" height="10" fill="#000"/><rect x="659" y="338" width="1" height="8" fill="#e8e8e8"/><rect x="663" y="324" width="1" height="13" fill="#000"/><rect x="662" y="332" width="3" height="3" fill="#000"/><rect x="667" y="334" width="1" height="18" fill="#000"/><rect x="666" y="336" width="3" height="14" fill="#000"/><rect x="671" y="351" width="1" height="13" fill="#000"/><rect x="670" y="353" width="3" height="10" fill="#000"/><rect x="675" y="345" width="1" height="13" fill="#000"/><rect x="674" y="348" width="3" height="9" fill="#686868"/><rect x="675" y="349" width="1" height="7" fill="#909090"/><rect x="679" y="342" width="1" height="24" fill="#000"/><rect x="678" y="346" width="3" height="14" fill="#000"/><rect x="683" y="360" width="1" height="25" fill="#000"/><rect x="682" y="361" width="3" height="23" fill="#000"/><rect x="687" y="369" width="1" height="24" fill="#000"/><rect x="686" y="379" width="3" height="8" fill="#000"/><rect x="691" y="379" width="1" height="16" fill="#000"/><rect x="690" y="387" width="3" height="2" fill="#000"/><rect x="694" y="364" width="1" height="20" fill="#000"/><rect x="693" y="365.5" width="3" height="3" fill="#000"/><rect x="694" y="366.5" width="1" height="1" fill="#e8e8e8"/><rect x="698" y="349" width="1" height="19" fill="#000"/><rect x="697" y="350" width="3" height="13" fill="#000"/><rect x="698" y="351" width="1" height="11" fill="#e8e8e8"/><rect x="702" y="340" width="1" height="18" fill="#000"/><rect x="701" y="342" width="3" height="2" fill="#000"/><rect x="706" y="338" width="1" height="14" fill="#000"/><rect x="705" y="345" width="3" height="2" fill="#000"/><rect x="710" y="331" width="1" height="14" fill="#000"/><rect x="709" y="332" width="3" height="12" fill="#686868"/><rect x="710" y="333" width="1" height="10" fill="#909090"/><rect x="714" y="325" width="1" height="12" fill="#000"/><rect x="713" y="328" width="3" height="3" fill="#000"/><rect x="718" y="328" width="1" height="9" fill="#000"/><rect x="717" y="329" width="3" height="2" fill="#000"/><rect x="722" y="337" width="1" height="16" fill="#000"/><rect x="721" y="342" width="3" height="4" fill="#000"/><rect x="726" y="328" width="1" height="22" fill="#000"/><rect x="725" y="330" width="3" height="13" fill="#000"/><rect x="726" y="331" width="1" height="11" fill="#e8e8e8"/><rect x="729" y="321" width="1" height="16" fill="#000"/><rect x="728" y="327" width="3" height="8" fill="#000"/><rect x="733" y="325" width="1" height="12" fill="#000"/><rect x="732" y="328" width="3" height="3" fill="#000"/><rect x="737" y="331" width="1" height="17" fill="#000"/><rect x="736" y="333" width="3" height="14" fill="#000"/><rect x="741" y="358" width="1" height="25" fill="#000"/><rect x="740" y="359" width="3" height="20" fill="#000"/><rect x="745" y="361" width="1" height="17" fill="#000"/><rect x="744" y="373" width="3" height="2" fill="#000"/><rect x="749" y="371" width="1" height="31" fill="#000"/><rect x="748" y="372" width="3" height="15" fill="#000"/><rect x="753" y="367" width="1" height="12" fill="#000"/><rect x="752" y="370" width="3" height="8" fill="#000"/><rect x="753" y="371" width="1" height="6" fill="#e8e8e8"/><rect x="757" y="354" width="1" height="21" fill="#000"/><rect x="756" y="355" width="3" height="17" fill="#000"/><rect x="757" y="356" width="1" height="15" fill="#e8e8e8"/><rect x="761" y="350" width="1" height="21" fill="#000"/><rect x="760" y="353" width="3" height="16" fill="#000"/><rect x="764" y="363" width="1" height="15" fill="#000"/><rect x="763" y="364" width="3" height="13" fill="#000"/><rect x="764" y="365" width="1" height="11" fill="#e8e8e8"/><rect x="768" y="361" width="1" height="21" fill="#000"/><rect x="767" y="362" width="3" height="16" fill="#000"/><rect x="772" y="358" width="1" height="10" fill="#000"/><rect x="771" y="359" width="3" height="8" fill="#686868"/><rect x="772" y="360" width="1" height="6" fill="#909090"/><rect x="776" y="355" width="1" height="9" fill="#000"/><rect x="775" y="359" width="3" height="4" fill="#000"/><rect x="780" y="361" width="1" height="6" fill="#000"/><rect x="779" y="362" width="3" height="4" fill="#000"/><rect x="784" y="356" width="1" height="17" fill="#000"/><rect x="783" y="360" width="3" height="12" fill="#686868"/><rect x="784" y="361" width="1" height="10" fill="#909090"/><rect x="788" y="355" width="1" height="26" fill="#000"/><rect x="787" y="359" width="3" height="16" fill="#000"/><rect x="792" y="374" width="1" height="8" fill="#000"/><rect x="791" y="374" width="3" height="7" fill="#000"/><rect x="792" y="375" width="1" height="5" fill="#e8e8e8"/><rect x="796" y="373" width="1" height="49" fill="#000"/><rect x="795" y="374" width="3" height="33" fill="#000"/><rect x="799" y="389" width="1" height="21" fill="#000"/><rect x="798" y="390" width="3" height="16" fill="#000"/><rect x="803" y="404" width="1" height="23" fill="#000"/><rect x="802" y="407" width="3" height="19" fill="#000"/><rect x="807" y="401" width="1" height="28" fill="#000"/><rect x="806" y="408" width="3" height="15" fill="#686868"/><rect x="807" y="409" width="1" height="13" fill="#909090"/><rect x="811" y="379" width="1" height="30" fill="#000"/><rect x="810" y="385" width="3" height="23" fill="#686868"/><rect x="811" y="386" width="1" height="21" fill="#909090"/><rect x="815" y="383" width="1" height="18" fill="#000"/><rect x="814" y="390" width="3" height="5" fill="#000"/><rect x="819" y="343" width="1" height="39" fill="#000"/><rect x="818" y="360" width="3" height="22" fill="#686868"/><rect x="819" y="361" width="1" height="20" fill="#909090"/><rect x="823" y="353" width="1" height="13" fill="#000"/><rect x="822" y="360" width="3" height="2" fill="#000"/><rect x="827" y="318" width="1" height="30" fill="#000"/><rect x="826" y="320" width="3" height="28" fill="#000"/><rect x="827" y="321" width="1" height="26" fill="#e8e8e8"/><rect x="830" y="281" width="1" height="39" fill="#000"/><rect x="829" y="282" width="3" height="26" fill="#000"/><rect x="830" y="283" width="1" height="24" fill="#e8e8e8"/><rect x="834" y="268" width="1" height="20" fill="#000"/><rect x="833" y="276" width="3" height="6" fill="#000"/><rect x="834" y="277" width="1" height="4" fill="#e8e8e8"/><rect x="838" y="269" width="1" height="23" fill="#000"/><rect x="837" y="279" width="3" height="7" fill="#000"/><rect x="842" y="273" width="1" height="22" fill="#000"/><rect x="841" y="284" width="3" height="2" fill="#000"/><rect x="846" y="259" width="1" height="21" fill="#000"/><rect x="845" y="265" width="3" height="12" fill="#686868"/><rect x="846" y="266" width="1" height="10" fill="#909090"/><rect x="850" y="241" width="1" height="17" fill="#000"/><rect x="849" y="243" width="3" height="15" fill="#686868"/><rect x="850" y="244" width="1" height="13" fill="#909090"/><rect x="854" y="225" width="1" height="17" fill="#000"/><rect x="853" y="228" width="3" height="8" fill="#686868"/><rect x="854" y="229" width="1" height="6" fill="#909090"/><rect x="858" y="218" width="1" height="13" fill="#000"/><rect x="857" y="222" width="3" height="2" fill="#000"/><rect x="862" y="222" width="1" height="17" fill="#000"/><rect x="861" y="228" width="3" height="4" fill="#000"/><rect x="865" y="293" width="1" height="81" fill="#000"/><rect x="864" y="339" width="3" height="28" fill="#000"/><rect x="869" y="325" width="1" height="70" fill="#000"/><rect x="868" y="371" width="3" height="3" fill="#000"/><rect x="873" y="381" width="1" height="111" fill="#000"/><rect x="872" y="382" width="3" height="101" fill="#000"/><rect x="877" y="434" width="1" height="74" fill="#000"/><rect x="876" y="447" width="3" height="19" fill="#686868"/><rect x="877" y="448" width="1" height="17" fill="#909090"/><rect x="881" y="374" width="1" height="58" fill="#000"/><rect x="880" y="388" width="3" height="35" fill="#686868"/><rect x="881" y="389" width="1" height="33" fill="#909090"/><rect x="885" y="383" width="1" height="25" fill="#000"/><rect x="884" y="397.5" width="3" height="3" fill="#686868"/><rect x="885" y="398.5" width="1" height="1" fill="#909090"/><rect x="889" y="372" width="1" height="31" fill="#000"/><rect x="888" y="379" width="3" height="23" fill="#000"/><rect x="893" y="395" width="1" height="35" fill="#000"/><rect x="892" y="396" width="3" height="12" fill="#000"/><rect x="893" y="397" width="1" height="10" fill="#e8e8e8"/><rect x="897" y="399" width="1" height="18" fill="#000"/><rect x="896" y="403" width="3" height="12" fill="#000"/><rect x="900" y="401" width="1" height="21" fill="#000"/><rect x="899" y="415" width="3" height="6" fill="#000"/><rect x="904" y="417" width="1" height="24" fill="#000"/><rect x="903" y="419" width="3" height="16" fill="#000"/><rect x="908" y="419" width="1" height="64" fill="#000"/><rect x="907" y="432" width="3" height="40" fill="#000"/><rect x="908" y="433" width="1" height="38" fill="#e8e8e8"/><rect x="912" y="409" width="1" height="14" fill="#000"/><rect x="911" y="410" width="3" height="11" fill="#000"/><rect x="916" y="422" width="1" height="29" fill="#000"/><rect x="915" y="433" width="3" height="17" fill="#000"/><rect x="920" y="406" width="1" height="36" fill="#000"/><rect x="919" y="407" width="3" height="34" fill="#000"/><rect x="924" y="434" width="1" height="19" fill="#000"/><rect x="923" y="435" width="3" height="4" fill="#000"/><rect x="924" y="436" width="1" height="2" fill="#e8e8e8"/><rect x="928" y="420" width="1" height="10" fill="#000"/><rect x="927" y="425" width="3" height="4" fill="#000"/><rect x="932" y="420" width="1" height="14" fill="#000"/><rect x="931" y="426" width="3" height="7" fill="#000"/><rect x="935" y="437" width="1" height="17" fill="#000"/><rect x="934" y="438" width="3" height="15" fill="#000"/><rect x="939" y="428" width="1" height="23" fill="#000"/><rect x="938" y="433" width="3" height="17" fill="#000"/><rect x="939" y="434" width="1" height="15" fill="#e8e8e8"/><rect x="943" y="428" width="1" height="18" fill="#000"/><rect x="942" y="429" width="3" height="13" fill="#000"/><rect x="947" y="422" width="1" height="29" fill="#000"/><rect x="946" y="440" width="3" height="3" fill="#000"/><rect x="951" y="431" width="1" height="18" fill="#000"/><rect x="950" y="435" width="3" height="10" fill="#686868"/><rect x="951" y="436" width="1" height="8" fill="#909090"/><rect x="955" y="420" width="1" height="19" fill="#000"/><rect x="954" y="421" width="3" height="17" fill="#686868"/><rect x="955" y="422" width="1" height="15" fill="#909090"/><rect x="959" y="415" width="1" height="13" fill="#000"/><rect x="958" y="418" width="3" height="9" fill="#000"/><rect x="963" y="423" width="1" height="24" fill="#000"/><rect x="962" y="424" width="3" height="22" fill="#000"/><rect x="967" y="446" width="1" height="12" fill="#000"/><rect x="966" y="452" width="3" height="5" fill="#000"/><rect x="970" y="457" width="1" height="24" fill="#000"/><rect x="969" y="458" width="3" height="21" fill="#000"/><rect x="974" y="464" width="1" height="11" fill="#000"/><rect x="973" y="467" width="3" height="6" fill="#000"/><rect x="974" y="468" width="1" height="4" fill="#e8e8e8"/><rect x="978" y="456" width="1" height="21" fill="#000"/><rect x="977" y="458" width="3" height="17" fill="#000"/><rect x="982" y="464" width="1" height="11" fill="#000"/><rect x="981" y="471.5" width="3" height="3" fill="#686868"/><rect x="982" y="472.5" width="1" height="1" fill="#909090"/><rect x="986" y="470" width="1" height="14" fill="#000"/><rect x="985" y="471" width="3" height="10" fill="#000"/><rect x="990" y="447" width="1" height="26" fill="#000"/><rect x="989" y="451" width="3" height="20" fill="#686868"/><rect x="990" y="452" width="1" height="18" fill="#909090"/><rect x="994" y="430" width="1" height="26" fill="#000"/><rect x="993" y="434" width="3" height="15" fill="#000"/><rect x="994" y="435" width="1" height="13" fill="#e8e8e8"/><rect x="998" y="380" width="1" height="27" fill="#000"/><rect x="997" y="384" width="3" height="17" fill="#000"/><rect x="998" y="385" width="1" height="15" fill="#e8e8e8"/><rect x="1002" y="386" width="1" height="6" fill="#000"/><rect x="1001" y="387" width="3" height="3" fill="#000"/><rect x="1005" y="380" width="1" height="17" fill="#000"/><rect x="1004" y="387" width="3" height="2" fill="#000"/><rect x="1009" y="381" width="1" height="35" fill="#000"/><rect x="1008" y="385" width="3" height="30" fill="#000"/><rect x="1013" y="393" width="1" height="23" fill="#000"/><rect x="1012" y="395" width="3" height="21" fill="#686868"/><rect x="1013" y="396" width="1" height="19" fill="#909090"/><rect x="1017" y="393" width="1" height="24" fill="#000"/><rect x="1016" y="395" width="3" height="21" fill="#000"/><rect x="1021" y="416" width="1" height="17" fill="#000"/><rect x="1020" y="419" width="3" height="13" fill="#000"/><rect x="1025" y="415" width="1" height="23" fill="#000"/><rect x="1024" y="422" width="3" height="2" fill="#000"/><rect x="1029" y="418" width="1" height="22" fill="#000"/><rect x="1028" y="425" width="3" height="14" fill="#000"/><rect x="1033" y="429" width="1" height="15" fill="#000"/><rect x="1032" y="430" width="3" height="10" fill="#000"/><rect x="1036" y="434" width="1" height="25" fill="#000"/><rect x="1035" y="435" width="3" height="23" fill="#000"/><rect x="1040" y="453" width="1" height="20" fill="#000"/><rect x="1039" y="459" width="3" height="6" fill="#000"/><rect x="1044" y="453" width="1" height="14" fill="#000"/><rect x="1043" y="456" width="3" height="10" fill="#000"/><rect x="1048" y="465" width="1" height="27" fill="#000"/><rect x="1047" y="467" width="3" height="20" fill="#000"/><rect x="1052" y="479" width="1" height="15" fill="#000"/><rect x="1051" y="486" width="3" height="2" fill="#000"/><rect x="1056" y="448" width="1" height="30" fill="#000"/><rect x="1055" y="451" width="3" height="27" fill="#686868"/><rect x="1056" y="452" width="1" height="25" fill="#909090"/><rect x="1060" y="421" width="1" height="32" fill="#000"/><rect x="1059" y="424" width="3" height="28" fill="#686868"/><rect x="1060" y="425" width="1" height="26" fill="#909090"/><rect x="1064" y="418" width="1" height="11" fill="#000"/><rect x="1063" y="420" width="3" height="4" fill="#000"/><rect x="1064" y="421" width="1" height="2" fill="#e8e8e8"/><rect x="1068" y="396" width="1" height="16" fill="#000"/><rect x="1067" y="396" width="3" height="14" fill="#000"/><rect x="1068" y="397" width="1" height="12" fill="#e8e8e8"/><rect x="1071" y="385" width="1" height="15" fill="#000"/><rect x="1070" y="392" width="3" height="4" fill="#000"/><rect x="1071" y="393" width="1" height="2" fill="#e8e8e8"/><rect x="1075" y="398" width="1" height="19" fill="#000"/><rect x="1074" y="402" width="3" height="14" fill="#000"/><rect x="1079" y="445" width="1" height="35" fill="#000"/><rect x="1078" y="446" width="3" height="19" fill="#000"/><rect x="1079" y="447" width="1" height="17" fill="#e8e8e8"/><rect x="1083" y="428" width="1" height="30" fill="#000"/><rect x="1082" y="441" width="3" height="5" fill="#686868"/><rect x="1083" y="442" width="1" height="3" fill="#909090"/><rect x="1087" y="430" width="1" height="13" fill="#000"/><rect x="1086" y="439" width="3" height="3" fill="#000"/><rect x="1091" y="444" width="1" height="19" fill="#000"/><rect x="1090" y="445" width="3" height="17" fill="#000"/><rect x="1095" y="448" width="1" height="28" fill="#000"/><rect x="1094" y="456" width="3" height="19" fill="#000"/><rect x="1099" y="455" width="1" height="15" fill="#000"/><rect x="1098" y="460" width="3" height="2" fill="#000"/><rect x="1103" y="465" width="1" height="13" fill="#000"/><rect x="1102" y="468" width="3" height="4" fill="#000"/><rect x="1103" y="469" width="1" height="2" fill="#e8e8e8"/><rect x="1106" y="422" width="1" height="25" fill="#000"/><rect x="1105" y="425" width="3" height="4" fill="#000"/><rect x="1106" y="426" width="1" height="2" fill="#e8e8e8"/><rect x="1110" y="421" width="1" height="12" fill="#000"/><rect x="1109" y="422" width="3" height="6" fill="#000"/><rect x="1114" y="424" width="1" height="23" fill="#000"/><rect x="1113" y="431" width="3" height="16" fill="#000"/><rect x="1118" y="428" width="1" height="28" fill="#000"/><rect x="1117" y="432" width="3" height="13" fill="#686868"/><rect x="1118" y="433" width="1" height="11" fill="#909090"/><rect x="1122" y="355" width="1" height="70" fill="#000"/><rect x="1121" y="355" width="3" height="70" fill="#686868"/><rect x="1122" y="356" width="1" height="68" fill="#909090"/><rect x="1126" y="328" width="1" height="27" fill="#000"/><rect x="1125" y="336" width="3" height="14" fill="#686868"/><rect x="1126" y="337" width="1" height="12" fill="#909090"/><rect x="1130" y="309" width="1" height="23" fill="#000"/><rect x="1129" y="320" width="3" height="12" fill="#000"/><rect x="1130" y="321" width="1" height="10" fill="#e8e8e8"/><rect x="1134" y="293" width="1" height="27" fill="#000"/><rect x="1133" y="303" width="3" height="11" fill="#000"/><rect x="1138" y="303" width="1" height="17" fill="#000"/><rect x="1137" y="308.5" width="3" height="3" fill="#000"/><rect x="1138" y="309.5" width="1" height="1" fill="#e8e8e8"/><rect x="1141" y="322" width="1" height="11" fill="#000"/><rect x="1140" y="328" width="3" height="4" fill="#000"/><rect x="1145" y="322" width="1" height="31" fill="#000"/><rect x="1144" y="323" width="3" height="25" fill="#000"/><rect x="1149" y="323" width="1" height="26" fill="#000"/><rect x="1148" y="324" width="3" height="21" fill="#686868"/><rect x="1149" y="325" width="1" height="19" fill="#909090"/><rect x="1153" y="295" width="1" height="15" fill="#000"/><rect x="1152" y="301" width="3" height="8" fill="#686868"/><rect x="1153" y="302" width="1" height="6" fill="#909090"/><rect x="1157" y="284" width="1" height="14" fill="#000"/><rect x="1156" y="288" width="3" height="7" fill="#000"/><rect x="1161" y="297" width="1" height="18" fill="#000"/><rect x="1160" y="297" width="3" height="17" fill="#000"/><rect x="1165" y="304" width="1" height="44" fill="#000"/><rect x="1164" y="317" width="3" height="13" fill="#000"/><rect x="1169" y="292" width="1" height="30" fill="#000"/><rect x="1168" y="294" width="3" height="24" fill="#000"/><rect x="1169" y="295" width="1" height="22" fill="#e8e8e8"/><rect x="1173" y="289" width="1" height="11" fill="#000"/><rect x="1172" y="292" width="3" height="2" fill="#000"/><rect x="1176" y="256" width="1" height="32" fill="#000"/><rect x="1175" y="260" width="3" height="28" fill="#000"/><rect x="1176" y="261" width="1" height="26" fill="#e8e8e8"/><rect x="1180" y="251" width="1" height="11" fill="#000"/><rect x="1179" y="256" width="3" height="2" fill="#000"/><rect x="1184" y="252" width="1" height="13" fill="#000"/><rect x="1183" y="255" width="3" height="8" fill="#000"/><rect x="1188" y="236" width="1" height="26" fill="#000"/><rect x="1187" y="250" width="3" height="6" fill="#686868"/><rect x="1188" y="251" width="1" height="4" fill="#909090"/><rect x="1192" y="244" width="1" height="13" fill="#000"/><rect x="1191" y="247" width="3" height="9" fill="#000"/><rect x="1196" y="250" width="1" height="20" fill="#000"/><rect x="1195" y="251" width="3" height="18" fill="#000"/><rect x="1200" y="267" width="1" height="11" fill="#000"/><rect x="1199" y="268" width="3" height="10" fill="#000"/><rect x="1204" y="255" width="1" height="24" fill="#000"/><rect x="1203" y="259" width="3" height="19" fill="#000"/><rect x="1204" y="260" width="1" height="17" fill="#e8e8e8"/><rect x="1208" y="240" width="1" height="16" fill="#000"/><rect x="1207" y="241" width="3" height="14" fill="#000"/><rect x="1208" y="242" width="1" height="12" fill="#e8e8e8"/><rect x="1211" y="237" width="1" height="10" fill="#000"/><rect x="1210" y="238" width="3" height="2" fill="#000"/><rect x="1215" y="215" width="1" height="17" fill="#000"/><rect x="1214" y="226" width="3" height="6" fill="#000"/><rect x="1215" y="227" width="1" height="4" fill="#e8e8e8"/><rect x="1219" y="219" width="1" height="8" fill="#000"/><rect x="1218" y="222" width="3" height="4" fill="#000"/><rect x="1223" y="215" width="1" height="18" fill="#000"/><rect x="1222" y="219" width="3" height="3" fill="#686868"/><rect x="1223" y="220" width="1" height="1" fill="#909090"/><rect x="1227" y="199" width="1" height="14" fill="#000"/><rect x="1226" y="210" width="3" height="2" fill="#000"/><rect x="1231" y="202" width="1" height="11" fill="#000"/><rect x="1230" y="208" width="3" height="2" fill="#000"/><rect x="1235" y="192" width="1" height="10" fill="#000"/><rect x="1234" y="197" width="3" height="2" fill="#000"/><rect x="1239" y="198" width="1" height="15" fill="#000"/><rect x="1238" y="199" width="3" height="12" fill="#000"/><rect x="1242" y="201" width="1" height="15" fill="#000"/><rect x="1241" y="209" width="3" height="2" fill="#000"/><rect x="1246" y="210" width="1" height="20" fill="#000"/><rect x="1245" y="217" width="3" height="13" fill="#000"/><rect x="1250" y="218" width="1" height="17" fill="#000"/><rect x="1249" y="224" width="3" height="10" fill="#000"/><rect x="1250" y="225" width="1" height="8" fill="#e8e8e8"/><rect x="1254" y="213" width="1" height="12" fill="#000"/><rect x="1253" y="214" width="3" height="2" fill="#000"/><rect x="1258" y="205" width="1" height="11" fill="#000"/><rect x="1257" y="208" width="3" height="2" fill="#000"/><rect x="1262" y="182" width="1" height="32" fill="#000"/><rect x="1261" y="185" width="3" height="24" fill="#686868"/><rect x="1262" y="186" width="1" height="22" fill="#909090"/><rect x="1266" y="157" width="1" height="21" fill="#000"/><rect x="1265" y="160" width="3" height="17" fill="#686868"/><rect x="1266" y="161" width="1" height="15" fill="#909090"/><rect x="1270" y="148" width="1" height="15" fill="#000"/><rect x="1269" y="151" width="3" height="3" fill="#000"/><rect x="1270" y="152" width="1" height="1" fill="#e8e8e8"/><rect x="1274" y="130" width="1" height="10" fill="#000"/><rect x="1273" y="136" width="3" height="2" fill="#000"/><rect x="1277" y="118" width="1" height="24" fill="#000"/><rect x="1276" y="130" width="3" height="4" fill="#000"/><rect x="1277" y="131" width="1" height="2" fill="#e8e8e8"/><rect x="1281" y="124" width="1" height="30" fill="#000"/><rect x="1280" y="124" width="3" height="29" fill="#000"/><rect x="1285" y="136" width="1" height="19" fill="#000"/><rect x="1284" y="148" width="3" height="3" fill="#000"/><rect x="1289" y="147" width="1" height="19" fill="#000"/><rect x="1288" y="149" width="3" height="14" fill="#000"/><rect x="1293" y="157" width="1" height="8" fill="#000"/><rect x="1292" y="161" width="3" height="2" fill="#000"/><rect x="1297" y="158" width="1" height="98" fill="#000"/><rect x="1296" y="161" width="3" height="61" fill="#000"/><rect x="1301" y="222" width="1" height="37" fill="#000"/><rect x="1300" y="223" width="3" height="18" fill="#000"/><rect x="1305" y="222" width="1" height="15" fill="#000"/><rect x="1304" y="230" width="3" height="6" fill="#000"/><rect x="1305" y="231" width="1" height="4" fill="#e8e8e8"/><rect x="1309" y="211" width="1" height="32" fill="#000"/><rect x="1308" y="223" width="3" height="19" fill="#000"/><rect x="1312" y="258" width="1" height="31" fill="#000"/><rect x="1311" y="266" width="3" height="16" fill="#000"/><rect x="1316" y="263" width="1" height="27" fill="#000"/><rect x="1315" y="278.5" width="3" height="3" fill="#000"/><rect x="1316" y="279.5" width="1" height="1" fill="#e8e8e8"/><rect x="1320" y="263" width="1" height="19" fill="#000"/><rect x="1319" y="264" width="3" height="4" fill="#000"/><rect x="1320" y="265" width="1" height="2" fill="#e8e8e8"/><rect x="1324" y="243" width="1" height="51" fill="#000"/><rect x="1323" y="265" width="3" height="28" fill="#000"/><rect x="1328" y="285" width="1" height="24" fill="#000"/><rect x="1327" y="292" width="3" height="2" fill="#000"/><rect x="1332" y="203" width="1" height="106" fill="#000"/><rect x="1331" y="204" width="3" height="92" fill="#686868"/><rect x="1332" y="205" width="1" height="90" fill="#909090"/><rect x="1336" y="177" width="1" height="27" fill="#000"/><rect x="1335" y="179" width="3" height="20" fill="#000"/><rect x="1336" y="180" width="1" height="18" fill="#e8e8e8"/><rect x="1340" y="170" width="1" height="12" fill="#000"/><rect x="1339" y="179" width="3" height="2" fill="#000"/><rect x="1344" y="164" width="1" height="38" fill="#000"/><rect x="1343" y="173" width="3" height="24" fill="#000"/><rect x="1347" y="162" width="1" height="38" fill="#000"/><rect x="1346" y="163" width="3" height="36" fill="#000"/><rect x="1347" y="164" width="1" height="34" fill="#e8e8e8"/><rect x="1351" y="128" width="1" height="11" fill="#000"/><rect x="1350" y="129" width="3" height="9" fill="#000"/><rect x="1355" y="143" width="1" height="19" fill="#000"/><rect x="1354" y="154" width="3" height="3" fill="#000"/><rect x="1359" y="145" width="1" height="40" fill="#000"/><rect x="1358" y="152" width="3" height="2" fill="#000"/><rect x="1363" y="137" width="1" height="23" fill="#000"/><rect x="1362" y="141" width="3" height="9" fill="#000"/><rect x="1367" y="152" width="1" height="32" fill="#000"/><rect x="1366" y="153" width="3" height="30" fill="#000"/><rect x="1371" y="176" width="1" height="22" fill="#000"/><rect x="1370" y="189" width="3" height="8" fill="#000"/><rect x="1375" y="194" width="1" height="18" fill="#000"/><rect x="1374" y="197" width="3" height="5" fill="#000"/><rect x="1379" y="169" width="1" height="49" fill="#000"/><rect x="1378" y="174" width="3" height="31" fill="#000"/><rect x="1379" y="175" width="1" height="29" fill="#e8e8e8"/><rect x="1382" y="167" width="1" height="26" fill="#000"/><rect x="1381" y="173" width="3" height="19" fill="#000"/><rect x="1386" y="187" width="1" height="39" fill="#000"/><rect x="1385" y="188" width="3" height="37" fill="#000"/><rect x="1390" y="215" width="1" height="31" fill="#000"/><rect x="1389" y="221" width="3" height="21" fill="#000"/><rect x="1394" y="226" width="1" height="19" fill="#000"/><rect x="1393" y="231" width="3" height="9" fill="#686868"/><rect x="1394" y="232" width="1" height="7" fill="#909090"/><rect x="1398" y="218" width="1" height="25" fill="#000"/><rect x="1397" y="235" width="3" height="2" fill="#000"/><rect x="1402" y="224" width="1" height="26" fill="#000"/><rect x="1401" y="225" width="3" height="18" fill="#000"/><rect x="1406" y="235" width="1" height="19" fill="#000"/><rect x="1405" y="242" width="3" height="2" fill="#000"/><rect x="1406" y="244" width="62" height="1" fill="#000"/></g><g clip-path="url(#cv)"><rect x="5" y="761" width="2" height="15" fill="#ff0000"/><rect x="9" y="763" width="2" height="13" fill="#ff0000"/><rect x="13" y="760" width="2" height="16" fill="#ff0000"/><rect x="17" y="765" width="2" height="11" fill="#ff0000"/><rect x="21" y="764" width="2" height="12" fill="#ff0000"/><rect x="25" y="762" width="2" height="14" fill="#ff0000"/><rect x="29" y="764" width="2" height="12" fill="#ff0000"/><rect x="32" y="763" width="2" height="13" fill="#ff0000"/><rect x="36" y="765" width="2" height="11" fill="#ff0000"/><rect x="40" y="762" width="2" height="14" fill="#ff0000"/><rect x="44" y="760" width="2" height="16" fill="#ff0000"/><rect x="48" y="760" width="2" height="16" fill="#ff0000"/><rect x="52" y="748" width="2" height="28" fill="#ff0000"/><rect x="56" y="760" width="2" height="16" fill="#ff0000"/><rect x="60" y="762" width="2" height="14" fill="#ff0000"/><rect x="64" y="766" width="2" height="10" fill="#ff0000"/><rect x="67" y="764" width="2" height="12" fill="#ff0000"/><rect x="71" y="762" width="2" height="14" fill="#ff0000"/><rect x="75" y="764" width="2" height="12" fill="#ff0000"/><rect x="79" y="766" width="2" height="10" fill="#ff0000"/><rect x="83" y="761" width="2" height="15" fill="#ff0000"/><rect x="87" y="763" width="2" height="13" fill="#ff0000"/><rect x="91" y="764" width="2" height="12" fill="#ff0000"/><rect x="95" y="763" width="2" height="13" fill="#ff0000"/><rect x="99" y="767" width="2" height="9" fill="#ff0000"/><rect x="102" y="768" width="2" height="8" fill="#ff0000"/><rect x="106" y="768" width="2" height="8" fill="#ff0000"/><rect x="110" y="767" width="2" height="9" fill="#ff0000"/><rect x="114" y="767" width="2" height="9" fill="#ff0000"/><rect x="118" y="767" width="2" height="9" fill="#ff0000"/><rect x="122" y="766" width="2" height="10" fill="#ff0000"/><rect x="126" y="767" width="2" height="9" fill="#ff0000"/><rect x="130" y="764" width="2" height="12" fill="#ff0000"/><rect x="134" y="765" width="2" height="11" fill="#ff0000"/><rect x="137" y="766" width="2" height="10" fill="#ff0000"/><rect x="141" y="765" width="2" height="11" fill="#ff0000"/><rect x="145" y="765" width="2" height="11" fill="#ff0000"/><rect x="149" y="761" width="2" height="15" fill="#ff0000"/><rect x="153" y="764" width="2" height="12" fill="#ff0000"/><rect x="157" y="767" width="2" height="9" fill="#ff0000"/><rect x="161" y="764" width="2" height="12" fill="#ff0000"/><rect x="165" y="762" width="2" height="14" fill="#ff0000"/><rect x="168" y="764" width="2" height="12" fill="#ff0000"/><rect x="172" y="764" width="2" height="12" fill="#ff0000"/><rect x="176" y="765" width="2" height="11" fill="#ff0000"/><rect x="180" y="763" width="2" height="13" fill="#ff0000"/><rect x="184" y="762" width="2" height="14" fill="#ff0000"/><rect x="188" y="762" width="2" height="14" fill="#ff0000"/><rect x="192" y="764" width="2" height="12" fill="#ff0000"/><rect x="196" y="764" width="2" height="12" fill="#ff0000"/><rect x="200" y="763" width="2" height="13" fill="#ff0000"/><rect x="203" y="763" width="2" height="13" fill="#ff0000"/><rect x="207" y="764" width="2" height="12" fill="#ff0000"/><rect x="211" y="762" width="2" height="14" fill="#ff0000"/><rect x="215" y="762" width="2" height="14" fill="#ff0000"/><rect x="219" y="763" width="2" height="13" fill="#ff0000"/><rect x="223" y="765" width="2" height="11" fill="#ff0000"/><rect x="227" y="765" width="2" height="11" fill="#ff0000"/><rect x="231" y="765" width="2" height="11" fill="#ff0000"/><rect x="235" y="765" width="2" height="11" fill="#ff0000"/><rect x="238" y="765" width="2" height="11" fill="#ff0000"/><rect x="242" y="766" width="2" height="10" fill="#ff0000"/><rect x="246" y="763" width="2" height="13" fill="#ff0000"/><rect x="250" y="764" width="2" height="12" fill="#ff0000"/><rect x="254" y="765" width="2" height="11" fill="#ff0000"/><rect x="258" y="765" width="2" height="11" fill="#ff0000"/><rect x="262" y="765" width="2" height="11" fill="#ff0000"/><rect x="266" y="764" width="2" height="12" fill="#ff0000"/><rect x="270" y="765" width="2" height="11" fill="#ff0000"/><rect x="273" y="766" width="2" height="10" fill="#ff0000"/><rect x="277" y="764" width="2" height="12" fill="#ff0000"/><rect x="281" y="766" width="2" height="10" fill="#ff0000"/><rect x="285" y="763" width="2" height="13" fill="#ff0000"/><rect x="289" y="763" width="2" height="13" fill="#ff0000"/><rect x="293" y="764" width="2" height="12" fill="#ff0000"/><rect x="297" y="763" width="2" height="13" fill="#ff0000"/><rect x="301" y="766" width="2" height="10" fill="#ff0000"/><rect x="304" y="764" width="2" height="12" fill="#ff0000"/><rect x="308" y="764" width="2" height="12" fill="#ff0000"/><rect x="312" y="766" width="2" height="10" fill="#ff0000"/><rect x="316" y="762" width="2" height="14" fill="#ff0000"/><rect x="320" y="764" width="2" height="12" fill="#ff0000"/><rect x="324" y="763" width="2" height="13" fill="#ff0000"/><rect x="328" y="764" width="2" height="12" fill="#ff0000"/><rect x="332" y="763" width="2" height="13" fill="#ff0000"/><rect x="336" y="765" width="2" height="11" fill="#ff0000"/><rect x="339" y="766" width="2" height="10" fill="#ff0000"/><rect x="343" y="764" width="2" height="12" fill="#ff0000"/><rect x="347" y="764" width="2" height="12" fill="#ff0000"/><rect x="351" y="762" width="2" height="14" fill="#ff0000"/><rect x="355" y="762" width="2" height="14" fill="#ff0000"/><rect x="359" y="765" width="2" height="11" fill="#ff0000"/><rect x="363" y="765" width="2" height="11" fill="#ff0000"/><rect x="367" y="766" width="2" height="10" fill="#ff0000"/><rect x="371" y="763" width="2" height="13" fill="#ff0000"/><rect x="374" y="761" width="2" height="15" fill="#ff0000"/><rect x="378" y="764" width="2" height="12" fill="#ff0000"/><rect x="382" y="759" width="2" height="17" fill="#ff0000"/><rect x="386" y="760" width="2" height="16" fill="#ff0000"/><rect x="390" y="762" width="2" height="14" fill="#ff0000"/><rect x="394" y="766" width="2" height="10" fill="#ff0000"/><rect x="398" y="764" width="2" height="12" fill="#ff0000"/><rect x="402" y="759" width="2" height="17" fill="#ff0000"/><rect x="406" y="762" width="2" height="14" fill="#ff0000"/><rect x="409" y="762" width="2" height="14" fill="#ff0000"/><rect x="413" y="763" width="2" height="13" fill="#ff0000"/><rect x="417" y="765" width="2" height="11" fill="#ff0000"/><rect x="421" y="761" width="2" height="15" fill="#ff0000"/><rect x="425" y="764" width="2" height="12" fill="#ff0000"/><rect x="429" y="765" width="2" height="11" fill="#ff0000"/><rect x="433" y="764" width="2" height="12" fill="#ff0000"/><rect x="437" y="765" width="2" height="11" fill="#ff0000"/><rect x="441" y="763" width="2" height="13" fill="#ff0000"/><rect x="444" y="765" width="2" height="11" fill="#ff0000"/><rect x="448" y="763" width="2" height="13" fill="#ff0000"/><rect x="452" y="763" width="2" height="13" fill="#ff0000"/><rect x="456" y="766" width="2" height="10" fill="#ff0000"/><rect x="460" y="762" width="2" height="14" fill="#ff0000"/><rect x="464" y="762" width="2" height="14" fill="#ff0000"/><rect x="468" y="767" width="2" height="9" fill="#ff0000"/><rect x="472" y="767" width="2" height="9" fill="#ff0000"/><rect x="475" y="773" width="2" height="3" fill="#ff0000"/><rect x="479" y="766" width="2" height="10" fill="#ff0000"/><rect x="483" y="766" width="2" height="10" fill="#ff0000"/><rect x="487" y="764" width="2" height="12" fill="#ff0000"/><rect x="491" y="765" width="2" height="11" fill="#ff0000"/><rect x="495" y="766" width="2" height="10" fill="#ff0000"/><rect x="499" y="761" width="2" height="15" fill="#ff0000"/><rect x="503" y="764" width="2" height="12" fill="#ff0000"/><rect x="507" y="761" width="2" height="15" fill="#ff0000"/><rect x="510" y="759" width="2" height="17" fill="#ff0000"/><rect x="514" y="762" width="2" height="14" fill="#ff0000"/><rect x="518" y="759" width="2" height="17" fill="#ff0000"/><rect x="522" y="763" width="2" height="13" fill="#ff0000"/><rect x="526" y="763" width="2" height="13" fill="#ff0000"/><rect x="530" y="763" width="2" height="13" fill="#ff0000"/><rect x="534" y="760" width="2" height="16" fill="#ff0000"/><rect x="538" y="762" width="2" height="14" fill="#ff0000"/><rect x="542" y="758" width="2" height="18" fill="#ff0000"/><rect x="545" y="753" width="2" height="23" fill="#ff0000"/><rect x="549" y="755" width="2" height="21" fill="#ff0000"/><rect x="553" y="759" width="2" height="17" fill="#ff0000"/><rect x="557" y="757" width="2" height="19" fill="#ff0000"/><rect x="561" y="760" width="2" height="16" fill="#ff0000"/><rect x="565" y="757" width="2" height="19" fill="#ff0000"/><rect x="569" y="762" width="2" height="14" fill="#ff0000"/><rect x="573" y="754" width="2" height="22" fill="#ff0000"/><rect x="577" y="754" width="2" height="22" fill="#ff0000"/><rect x="580" y="760" width="2" height="16" fill="#ff0000"/><rect x="584" y="757" width="2" height="19" fill="#ff0000"/><rect x="588" y="753" width="2" height="23" fill="#ff0000"/><rect x="592" y="759" width="2" height="17" fill="#ff0000"/><rect x="596" y="758" width="2" height="18" fill="#ff0000"/><rect x="600" y="759" width="2" height="17" fill="#ff0000"/><rect x="604" y="759" width="2" height="17" fill="#ff0000"/><rect x="608" y="762" width="2" height="14" fill="#ff0000"/><rect x="611" y="760" width="2" height="16" fill="#ff0000"/><rect x="615" y="759" width="2" height="17" fill="#ff0000"/><rect x="619" y="763" width="2" height="13" fill="#ff0000"/><rect x="623" y="762" width="2" height="14" fill="#ff0000"/><rect x="627" y="763" width="2" height="13" fill="#ff0000"/><rect x="631" y="765" width="2" height="11" fill="#ff0000"/><rect x="635" y="765" width="2" height="11" fill="#ff0000"/><rect x="639" y="759" width="2" height="17" fill="#ff0000"/><rect x="643" y="761" width="2" height="15" fill="#ff0000"/><rect x="646" y="765" width="2" height="11" fill="#ff0000"/><rect x="650" y="762" width="2" height="14" fill="#ff0000"/><rect x="654" y="759" width="2" height="17" fill="#ff0000"/><rect x="658" y="746" width="2" height="30" fill="#ff0000"/><rect x="662" y="742" width="2" height="34" fill="#ff0000"/><rect x="666" y="751" width="2" height="25" fill="#ff0000"/><rect x="670" y="757" width="2" height="19" fill="#ff0000"/><rect x="674" y="757" width="2" height="19" fill="#ff0000"/><rect x="678" y="756" width="2" height="20" fill="#ff0000"/><rect x="681" y="755" width="2" height="21" fill="#ff0000"/><rect x="685" y="756" width="2" height="20" fill="#ff0000"/><rect x="689" y="756" width="2" height="20" fill="#ff0000"/><rect x="693" y="754" width="2" height="22" fill="#ff0000"/><rect x="697" y="759" width="2" height="17" fill="#ff0000"/><rect x="701" y="758" width="2" height="18" fill="#ff0000"/><rect x="705" y="756" width="2" height="20" fill="#ff0000"/><rect x="709" y="759" width="2" height="17" fill="#ff0000"/><rect x="713" y="757" width="2" height="19" fill="#ff0000"/><rect x="716" y="761" width="2" height="15" fill="#ff0000"/><rect x="720" y="760" width="2" height="16" fill="#ff0000"/><rect x="724" y="759" width="2" height="17" fill="#ff0000"/><rect x="728" y="760" width="2" height="16" fill="#ff0000"/><rect x="732" y="761" width="2" height="15" fill="#ff0000"/><rect x="736" y="761" width="2" height="15" fill="#ff0000"/><rect x="740" y="755" width="2" height="21" fill="#ff0000"/><rect x="744" y="759" width="2" height="17" fill="#ff0000"/><rect x="747" y="754" width="2" height="22" fill="#ff0000"/><rect x="751" y="761" width="2" height="15" fill="#ff0000"/><rect x="755" y="759" width="2" height="17" fill="#ff0000"/><rect x="759" y="762" width="2" height="14" fill="#ff0000"/><rect x="763" y="761" width="2" height="15" fill="#ff0000"/><rect x="767" y="759" width="2" height="17" fill="#ff0000"/><rect x="771" y="759" width="2" height="17" fill="#ff0000"/><rect x="775" y="761" width="2" height="15" fill="#ff0000"/><rect x="779" y="764" width="2" height="12" fill="#ff0000"/><rect x="782" y="756" width="2" height="20" fill="#ff0000"/><rect x="786" y="755" width="2" height="21" fill="#ff0000"/><rect x="790" y="755" width="2" height="21" fill="#ff0000"/><rect x="794" y="756" width="2" height="20" fill="#ff0000"/><rect x="798" y="764" width="2" height="12" fill="#ff0000"/><rect x="802" y="763" width="2" height="13" fill="#ff0000"/><rect x="806" y="762" width="2" height="14" fill="#ff0000"/><rect x="810" y="760" width="2" height="16" fill="#ff0000"/><rect x="814" y="761" width="2" height="15" fill="#ff0000"/><rect x="817" y="754" width="2" height="22" fill="#ff0000"/><rect x="821" y="761" width="2" height="15" fill="#ff0000"/><rect x="825" y="756" width="2" height="20" fill="#ff0000"/><rect x="829" y="750" width="2" height="26" fill="#ff0000"/><rect x="833" y="755" width="2" height="21" fill="#ff0000"/><rect x="837" y="759" width="2" height="17" fill="#ff0000"/><rect x="841" y="754" width="2" height="22" fill="#ff0000"/><rect x="845" y="754" width="2" height="22" fill="#ff0000"/><rect x="849" y="756" width="2" height="20" fill="#ff0000"/><rect x="852" y="758" width="2" height="18" fill="#ff0000"/><rect x="856" y="753" width="2" height="23" fill="#ff0000"/><rect x="860" y="756" width="2" height="20" fill="#ff0000"/><rect x="864" y="752" width="2" height="24" fill="#ff0000"/><rect x="868" y="742" width="2" height="34" fill="#ff0000"/><rect x="872" y="751" width="2" height="25" fill="#ff0000"/><rect x="876" y="746" width="2" height="30" fill="#ff0000"/><rect x="880" y="749" width="2" height="27" fill="#ff0000"/><rect x="884" y="754" width="2" height="22" fill="#ff0000"/><rect x="887" y="753" width="2" height="23" fill="#ff0000"/><rect x="891" y="756" width="2" height="20" fill="#ff0000"/><rect x="895" y="761" width="2" height="15" fill="#ff0000"/><rect x="899" y="761" width="2" height="15" fill="#ff0000"/><rect x="903" y="761" width="2" height="15" fill="#ff0000"/><rect x="907" y="755" width="2" height="21" fill="#ff0000"/><rect x="911" y="762" width="2" height="14" fill="#ff0000"/><rect x="915" y="759" width="2" height="17" fill="#ff0000"/><rect x="918" y="760" width="2" height="16" fill="#ff0000"/><rect x="922" y="759" width="2" height="17" fill="#ff0000"/><rect x="926" y="757" width="2" height="19" fill="#ff0000"/><rect x="930" y="756" width="2" height="20" fill="#ff0000"/><rect x="934" y="758" width="2" height="18" fill="#ff0000"/><rect x="938" y="751" width="2" height="25" fill="#ff0000"/><rect x="942" y="761" width="2" height="15" fill="#ff0000"/><rect x="946" y="753" width="2" height="23" fill="#ff0000"/><rect x="950" y="758" width="2" height="18" fill="#ff0000"/><rect x="953" y="758" width="2" height="18" fill="#ff0000"/><rect x="957" y="759" width="2" height="17" fill="#ff0000"/><rect x="961" y="760" width="2" height="16" fill="#ff0000"/><rect x="965" y="762" width="2" height="14" fill="#ff0000"/><rect x="969" y="758" width="2" height="18" fill="#ff0000"/><rect x="973" y="763" width="2" height="13" fill="#ff0000"/><rect x="977" y="758" width="2" height="18" fill="#ff0000"/><rect x="981" y="761" width="2" height="15" fill="#ff0000"/><rect x="985" y="759" width="2" height="17" fill="#ff0000"/><rect x="988" y="762" width="2" height="14" fill="#ff0000"/><rect x="992" y="758" width="2" height="18" fill="#ff0000"/><rect x="996" y="754" width="2" height="22" fill="#ff0000"/><rect x="1000" y="756" width="2" height="20" fill="#ff0000"/><rect x="1004" y="758" width="2" height="18" fill="#ff0000"/><rect x="1008" y="760" width="2" height="16" fill="#ff0000"/><rect x="1012" y="758" width="2" height="18" fill="#ff0000"/><rect x="1016" y="760" width="2" height="16" fill="#ff0000"/><rect x="1020" y="761" width="2" height="15" fill="#ff0000"/><rect x="1023" y="758" width="2" height="18" fill="#ff0000"/><rect x="1027" y="760" width="2" height="16" fill="#ff0000"/><rect x="1031" y="765" width="2" height="11" fill="#ff0000"/><rect x="1035" y="764" width="2" height="12" fill="#ff0000"/><rect x="1039" y="764" width="2" height="12" fill="#ff0000"/><rect x="1043" y="762" width="2" height="14" fill="#ff0000"/><rect x="1047" y="762" width="2" height="14" fill="#ff0000"/><rect x="1051" y="763" width="2" height="13" fill="#ff0000"/><rect x="1054" y="760" width="2" height="16" fill="#ff0000"/><rect x="1058" y="764" width="2" height="12" fill="#ff0000"/><rect x="1062" y="772" width="2" height="4" fill="#ff0000"/><rect x="1066" y="759" width="2" height="17" fill="#ff0000"/><rect x="1070" y="760" width="2" height="16" fill="#ff0000"/><rect x="1074" y="762" width="2" height="14" fill="#ff0000"/><rect x="1078" y="759" width="2" height="17" fill="#ff0000"/><rect x="1082" y="762" width="2" height="14" fill="#ff0000"/><rect x="1086" y="764" width="2" height="12" fill="#ff0000"/><rect x="1089" y="761" width="2" height="15" fill="#ff0000"/><rect x="1093" y="763" width="2" height="13" fill="#ff0000"/><rect x="1097" y="763" width="2" height="13" fill="#ff0000"/><rect x="1101" y="764" width="2" height="12" fill="#ff0000"/><rect x="1105" y="758" width="2" height="18" fill="#ff0000"/><rect x="1109" y="764" width="2" height="12" fill="#ff0000"/><rect x="1113" y="764" width="2" height="12" fill="#ff0000"/><rect x="1117" y="761" width="2" height="15" fill="#ff0000"/><rect x="1121" y="748" width="2" height="28" fill="#ff0000"/><rect x="1124" y="752" width="2" height="24" fill="#ff0000"/><rect x="1128" y="750" width="2" height="26" fill="#ff0000"/><rect x="1132" y="757" width="2" height="19" fill="#ff0000"/><rect x="1136" y="761" width="2" height="15" fill="#ff0000"/><rect x="1140" y="759" width="2" height="17" fill="#ff0000"/><rect x="1144" y="759" width="2" height="17" fill="#ff0000"/><rect x="1148" y="757" width="2" height="19" fill="#ff0000"/><rect x="1152" y="753" width="2" height="23" fill="#ff0000"/><rect x="1156" y="757" width="2" height="19" fill="#ff0000"/><rect x="1159" y="758" width="2" height="18" fill="#ff0000"/><rect x="1163" y="752" width="2" height="24" fill="#ff0000"/><rect x="1167" y="755" width="2" height="21" fill="#ff0000"/><rect x="1171" y="756" width="2" height="20" fill="#ff0000"/><rect x="1175" y="753" width="2" height="23" fill="#ff0000"/><rect x="1179" y="753" width="2" height="23" fill="#ff0000"/><rect x="1183" y="753" width="2" height="23" fill="#ff0000"/><rect x="1187" y="751" width="2" height="25" fill="#ff0000"/><rect x="1191" y="756" width="2" height="20" fill="#ff0000"/><rect x="1194" y="753" width="2" height="23" fill="#ff0000"/><rect x="1198" y="753" width="2" height="23" fill="#ff0000"/><rect x="1202" y="741" width="2" height="35" fill="#ff0000"/><rect x="1206" y="750" width="2" height="26" fill="#ff0000"/><rect x="1210" y="751" width="2" height="25" fill="#ff0000"/><rect x="1214" y="753" width="2" height="23" fill="#ff0000"/><rect x="1218" y="756" width="2" height="20" fill="#ff0000"/><rect x="1222" y="748" width="2" height="28" fill="#ff0000"/><rect x="1225" y="747" width="2" height="29" fill="#ff0000"/><rect x="1229" y="744" width="2" height="32" fill="#ff0000"/><rect x="1233" y="751" width="2" height="25" fill="#ff0000"/><rect x="1237" y="749" width="2" height="27" fill="#ff0000"/><rect x="1241" y="750" width="2" height="26" fill="#ff0000"/><rect x="1245" y="739" width="2" height="37" fill="#ff0000"/><rect x="1249" y="743" width="2" height="33" fill="#ff0000"/><rect x="1253" y="736" width="2" height="40" fill="#ff0000"/><rect x="1257" y="728" width="2" height="48" fill="#ff0000"/><rect x="1260" y="736" width="2" height="40" fill="#ff0000"/><rect x="1264" y="723" width="2" height="53" fill="#ff0000"/><rect x="1268" y="718" width="2" height="58" fill="#ff0000"/><rect x="1272" y="724" width="2" height="52" fill="#ff0000"/><rect x="1276" y="713" width="2" height="63" fill="#ff0000"/><rect x="1280" y="736" width="2" height="40" fill="#ff0000"/><rect x="1284" y="742" width="2" height="34" fill="#ff0000"/><rect x="1288" y="740" width="2" height="36" fill="#ff0000"/><rect x="1292" y="741" width="2" height="35" fill="#ff0000"/><rect x="1295" y="718" width="2" height="58" fill="#ff0000"/><rect x="1299" y="735" width="2" height="41" fill="#ff0000"/><rect x="1303" y="738" width="2" height="38" fill="#ff0000"/><rect x="1307" y="730" width="2" height="46" fill="#ff0000"/><rect x="1311" y="739" width="2" height="37" fill="#ff0000"/><rect x="1315" y="741" width="2" height="35" fill="#ff0000"/><rect x="1319" y="749" width="2" height="27" fill="#ff0000"/><rect x="1323" y="734" width="2" height="42" fill="#ff0000"/><rect x="1327" y="746" width="2" height="30" fill="#ff0000"/><rect x="1330" y="729" width="2" height="47" fill="#ff0000"/><rect x="1334" y="728" width="2" height="48" fill="#ff0000"/><rect x="1338" y="733" width="2" height="43" fill="#ff0000"/><rect x="1342" y="738" width="2" height="38" fill="#ff0000"/><rect x="1346" y="735" width="2" height="41" fill="#ff0000"/><rect x="1350" y="737" width="2" height="39" fill="#ff0000"/><rect x="1354" y="743" width="2" height="33" fill="#ff0000"/><rect x="1358" y="732" width="2" height="44" fill="#ff0000"/><rect x="1361" y="747" width="2" height="29" fill="#ff0000"/><rect x="1365" y="747" width="2" height="29" fill="#ff0000"/><rect x="1369" y="747" width="2" height="29" fill="#ff0000"/><rect x="1373" y="747" width="2" height="29" fill="#ff0000"/><rect x="1377" y="733" width="2" height="43" fill="#ff0000"/><rect x="1381" y="734" width="2" height="42" fill="#ff0000"/><rect x="1385" y="747" width="2" height="29" fill="#ff0000"/><rect x="1389" y="748" width="2" height="28" fill="#ff0000"/><rect x="1393" y="747" width="2" height="29" fill="#ff0000"/><rect x="1396" y="745" width="2" height="31" fill="#ff0000"/><rect x="1400" y="744" width="2" height="32" fill="#ff0000"/><rect x="1404" y="746" width="2" height="30" fill="#ff0000"/></g><rect x="1468" y="660.82" width="7" height="1" fill="#000"/><rect x="1468" y="646.56" width="4" height="1" fill="#000"/><rect x="1468" y="632.3" width="7" height="1" fill="#000"/><rect x="1468" y="618.04" width="4" height="1" fill="#000"/><rect x="1468" y="603.78" width="7" height="1" fill="#000"/><rect x="1468" y="589.52" width="4" height="1" fill="#000"/><rect x="1468" y="575.26" width="7" height="1" fill="#000"/><rect x="1468" y="561" width="4" height="1" fill="#000"/><rect x="1468" y="546.74" width="7" height="1" fill="#000"/><rect x="1468" y="532.48" width="4" height="1" fill="#000"/><rect x="1468" y="518.22" width="7" height="1" fill="#000"/><rect x="1468" y="503.96" width="4" height="1" fill="#000"/><rect x="1468" y="489.7" width="7" height="1" fill="#000"/><rect x="1468" y="475.44" width="4" height="1" fill="#000"/><rect x="1468" y="461.18" width="7" height="1" fill="#000"/><rect x="1468" y="446.92" width="4" height="1" fill="#000"/><rect x="1468" y="432.66" width="7" height="1" fill="#000"/><rect x="1468" y="418.4" width="4" height="1" fill="#000"/><rect x="1468" y="404.14" width="7" height="1" fill="#000"/><rect x="1468" y="389.88" width="4" height="1" fill="#000"/><rect x="1468" y="375.62" width="7" height="1" fill="#000"/><rect x="1468" y="361.36" width="4" height="1" fill="#000"/><rect x="1468" y="347.1" width="7" height="1" fill="#000"/><rect x="1468" y="332.84" width="4" height="1" fill="#000"/><rect x="1468" y="318.58" width="7" height="1" fill="#000"/><rect x="1468" y="304.32" width="4" height="1" fill="#000"/><rect x="1468" y="290.06" width="7" height="1" fill="#000"/><rect x="1468" y="275.8" width="4" height="1" fill="#000"/><rect x="1468" y="261.54" width="7" height="1" fill="#000"/><rect x="1468" y="247.28" width="4" height="1" fill="#000"/><rect x="1468" y="233.02" width="7" height="1" fill="#000"/><rect x="1468" y="218.76" width="4" height="1" fill="#000"/><rect x="1468" y="204.5" width="7" height="1" fill="#000"/><rect x="1468" y="190.24" width="4" height="1" fill="#000"/><rect x="1468" y="175.98" width="7" height="1" fill="#000"/><rect x="1468" y="161.72" width="4" height="1" fill="#000"/><rect x="1468" y="147.46" width="7" height="1" fill="#000"/><rect x="1468" y="133.2" width="4" height="1" fill="#000"/><rect x="1468" y="118.94" width="7" height="1" fill="#000"/><rect x="1468" y="104.68" width="4" height="1" fill="#000"/><rect x="1468" y="90.42" width="7" height="1" fill="#000"/><rect x="1468" y="76.16" width="4" height="1" fill="#000"/><rect x="1468" y="61.9" width="7" height="1" fill="#000"/><g clip-path="url(#cax)"><text x="1478" y="665.92" font-family="Liberation Sans, sans-serif" font-weight="bold" font-size="13.33" fill="#000">7800,00</text><text x="1478" y="637.4" font-family="Liberation Sans, sans-serif" font-weight="bold" font-size="13.33" fill="#000">8000,00</text><text x="1478" y="608.88" font-family="Liberation Sans, sans-serif" font-weight="bold" font-size="13.33" fill="#000">8200,00</text><text x="1478" y="580.36" font-family="Liberation Sans, sans-serif" font-weight="bold" font-size="13.33" fill="#000">8400,00</text><text x="1478" y="551.84" font-family="Liberation Sans, sans-serif" font-weight="bold" font-size="13.33" fill="#000">8600,00</text><text x="1478" y="523.32" font-family="Liberation Sans, sans-serif" font-weight="bold" font-size="13.33" fill="#000">8800,00</text><text x="1478" y="494.8" font-family="Liberation Sans, sans-serif" font-weight="bold" font-size="13.33" fill="#000">9000,00</text><text x="1478" y="466.28" font-family="Liberation Sans, sans-serif" font-weight="bold" font-size="13.33" fill="#000">9200,00</text><text x="1478" y="437.76" font-family="Liberation Sans, sans-serif" font-weight="bold" font-size="13.33" fill="#000">9400,00</text><text x="1478" y="409.24" font-family="Liberation Sans, sans-serif" font-weight="bold" font-size="13.33" fill="#000">9600,00</text><text x="1478" y="380.72" font-family="Liberation Sans, sans-serif" font-weight="bold" font-size="13.33" fill="#000">9800,00</text><text x="1478" y="352.2" font-family="Liberation Sans, sans-serif" font-weight="bold" font-size="13.33" fill="#000">10000,00</text><text x="1478" y="323.68" font-family="Liberation Sans, sans-serif" font-weight="bold" font-size="13.33" fill="#000">10200,00</text><text x="1478" y="295.16" font-family="Liberation Sans, sans-serif" font-weight="bold" font-size="13.33" fill="#000">10400,00</text><text x="1478" y="266.64" font-family="Liberation Sans, sans-serif" font-weight="bold" font-size="13.33" fill="#000">10600,00</text><text x="1478" y="238.12" font-family="Liberation Sans, sans-serif" font-weight="bold" font-size="13.33" fill="#000">10800,00</text><text x="1478" y="209.6" font-family="Liberation Sans, sans-serif" font-weight="bold" font-size="13.33" fill="#000">11000,00</text><text x="1478" y="181.08" font-family="Liberation Sans, sans-serif" font-weight="bold" font-size="13.33" fill="#000">11200,00</text><text x="1478" y="152.56" font-family="Liberation Sans, sans-serif" font-weight="bold" font-size="13.33" fill="#000">11400,00</text><text x="1478" y="124.04" font-family="Liberation Sans, sans-serif" font-weight="bold" font-size="13.33" fill="#000">11600,00</text><text x="1478" y="95.52" font-family="Liberation Sans, sans-serif" font-weight="bold" font-size="13.33" fill="#000">11800,00</text><text x="1478" y="67" font-family="Liberation Sans, sans-serif" font-weight="bold" font-size="13.33" fill="#000">12000,00</text></g><rect x="1468" y="233.3" width="60" height="20" fill="#000"/><g clip-path="url(#cax)"><text x="1480.5" y="247.9" font-family="DejaVu Sans, sans-serif" font-size="11.2" fill="#fff">10720,36</text></g><rect x="1468" y="108.1" width="60" height="20" fill="#000"/><g clip-path="url(#cbx)"><text x="1476.9" y="122" font-family="DejaVu Sans, sans-serif" font-size="12" fill="#fff">11605,00</text></g><rect x="1468" y="158.3" width="60" height="20" fill="#ff0000"/><g clip-path="url(#cbx)"><text x="1476.9" y="172.2" font-family="DejaVu Sans, sans-serif" font-size="12" fill="#000">11252,00</text></g><rect x="1468" y="190.3" width="60" height="20" fill="#ff0000"/><g clip-path="url(#cbx)"><text x="1476.9" y="204.2" font-family="DejaVu Sans, sans-serif" font-size="12" fill="#000">11025,00</text></g><rect x="1468" y="225.3" width="60" height="20" fill="#000"/><g clip-path="url(#cbx)"><text x="1476.9" y="239.2" font-family="DejaVu Sans, sans-serif" font-size="12" fill="#fff">10780,00</text></g><rect x="1468" y="258.3" width="60" height="20" fill="#000"/><g clip-path="url(#cbx)"><text x="1476.9" y="272.2" font-family="DejaVu Sans, sans-serif" font-size="12" fill="#fff">10550,00</text></g><rect x="1468" y="300.5" width="60" height="20" fill="#ff0000"/><g clip-path="url(#cbx)"><text x="1476.9" y="314.4" font-family="DejaVu Sans, sans-serif" font-size="12" fill="#000">10250,00</text></g><rect x="1468" y="336.5" width="60" height="20" fill="#000"/><g clip-path="url(#cbx)"><text x="1476.9" y="350.4" font-family="DejaVu Sans, sans-serif" font-size="12" fill="#fff">10000,00</text></g><rect x="1468" y="365.5" width="60" height="20" fill="#000"/><g clip-path="url(#cbx)"><text x="1476.9" y="379.4" font-family="DejaVu Sans, sans-serif" font-size="12" fill="#fff">9800,00</text></g><rect x="1468" y="404.4" width="60" height="20" fill="#000"/><g clip-path="url(#cbx)"><text x="1476.9" y="418.3" font-family="DejaVu Sans, sans-serif" font-size="12" fill="#fff">9525,00</text></g><rect x="1468" y="442.5" width="60" height="20" fill="#000"/><g clip-path="url(#cbx)"><text x="1476.9" y="456.4" font-family="DejaVu Sans, sans-serif" font-size="12" fill="#fff">9255,00</text></g><rect x="1468" y="472.3" width="60" height="20" fill="#000"/><g clip-path="url(#cbx)"><text x="1476.9" y="486.2" font-family="DejaVu Sans, sans-serif" font-size="12" fill="#fff">9050,00</text></g><rect x="1468" y="519.6" width="60" height="20" fill="#000"/><g clip-path="url(#cbx)"><text x="1476.9" y="533.5" font-family="DejaVu Sans, sans-serif" font-size="12" fill="#fff">8715,00</text></g><rect x="1468" y="541.5" width="60" height="20" fill="#000"/><g clip-path="url(#cbx)"><text x="1476.9" y="555.4" font-family="DejaVu Sans, sans-serif" font-size="12" fill="#fff">8565,00</text></g><rect x="1468" y="724.7" width="7" height="1" fill="#000"/><text x="1478" y="729.8" font-family="Liberation Sans, sans-serif" font-weight="bold" font-size="13.33" fill="#000">10.00Mr</text><rect x="1468" y="745.7" width="7" height="1" fill="#000"/><text x="1478" y="750.8" font-family="Liberation Sans, sans-serif" font-weight="bold" font-size="13.33" fill="#000">6.00Mr</text><rect x="1468" y="766.7" width="7" height="1" fill="#000"/><text x="1478" y="771.8" font-family="Liberation Sans, sans-serif" font-weight="bold" font-size="13.33" fill="#000">2.00Mr</text><rect x="1468" y="735.2" width="4" height="1" fill="#000"/><rect x="1468" y="756.2" width="4" height="1" fill="#000"/><rect x="88" y="780" width="1" height="19" fill="#000"/><text x="87.2" y="794" font-family="DejaVu Sans, sans-serif" font-size="12" fill="#000">06-24</text><rect x="154" y="780" width="1" height="19" fill="#000"/><text x="153.2" y="794" font-family="DejaVu Sans, sans-serif" font-size="12" fill="#000">07-24</text><rect x="240" y="780" width="1" height="19" fill="#000"/><text x="239.2" y="794" font-family="DejaVu Sans, sans-serif" font-size="12" fill="#000">08-24</text><rect x="321" y="780" width="1" height="19" fill="#000"/><text x="320.2" y="794" font-family="DejaVu Sans, sans-serif" font-size="12" fill="#000">09-24</text><rect x="403" y="780" width="1" height="19" fill="#000"/><text x="402.2" y="794" font-family="DejaVu Sans, sans-serif" font-size="12" fill="#000">10-24</text><rect x="488" y="780" width="1" height="19" fill="#000"/><text x="487.2" y="794" font-family="DejaVu Sans, sans-serif" font-size="12" fill="#000">11-24</text><rect x="570" y="780" width="1" height="19" fill="#000"/><text x="569.2" y="794" font-family="DejaVu Sans, sans-serif" font-size="12" fill="#000">12-24</text><rect x="656" y="780" width="1" height="19" fill="#000"/><text x="655.2" y="794" font-family="DejaVu Sans, sans-serif" font-size="12" fill="#000">01-25</text><rect x="741" y="780" width="1" height="19" fill="#000"/><text x="740.2" y="794" font-family="DejaVu Sans, sans-serif" font-size="12" fill="#000">02-25</text><rect x="819" y="780" width="1" height="19" fill="#000"/><text x="818.2" y="794" font-family="DejaVu Sans, sans-serif" font-size="12" fill="#000">03-25</text><rect x="897" y="780" width="1" height="19" fill="#000"/><text x="896.2" y="794" font-family="DejaVu Sans, sans-serif" font-size="12" fill="#000">04-25</text><rect x="974" y="780" width="1" height="19" fill="#000"/><text x="973.2" y="794" font-family="DejaVu Sans, sans-serif" font-size="12" fill="#000">05-25</text><rect x="1052" y="780" width="1" height="19" fill="#000"/><text x="1051.2" y="794" font-family="DejaVu Sans, sans-serif" font-size="12" fill="#000">06-25</text><rect x="1126" y="780" width="1" height="19" fill="#000"/><text x="1125.2" y="794" font-family="DejaVu Sans, sans-serif" font-size="12" fill="#000">07-25</text><rect x="1211" y="780" width="1" height="19" fill="#000"/><text x="1210.2" y="794" font-family="DejaVu Sans, sans-serif" font-size="12" fill="#000">08-25</text><rect x="1293" y="780" width="1" height="19" fill="#000"/><text x="1292.2" y="794" font-family="DejaVu Sans, sans-serif" font-size="12" fill="#000">09-25</text><rect x="1379" y="780" width="1" height="19" fill="#000"/><text x="1378.2" y="794" font-family="DejaVu Sans, sans-serif" font-size="12" fill="#000">10-25</text><rect x="4" y="800" width="1464" height="12" fill="#000"/><rect x="19" y="801" width="904" height="10" fill="url(#gbr)"/><rect x="923" y="802" width="530" height="8" fill="url(#gor)"/><path d="M6.5 805.8 L14 801.6 L14 810 Z" fill="#ff8c00" shape-rendering="geometricPrecision"/><path d="M1465.5 805.8 L1458 801.6 L1458 810 Z" fill="#ff8c00" shape-rendering="geometricPrecision"/><rect x="1453.5" y="19.5" width="14" height="9" rx="3" ry="3" fill="url(#gyb2)" stroke="#d4b450" stroke-width="1" shape-rendering="geometricPrecision"/><text x="1460.5" y="26.6" text-anchor="middle" font-family="DejaVu Sans Mono, DejaVu Sans, monospace" font-size="8" fill="#2a2a2a">[]</text><rect x="1438.5" y="702.5" width="14" height="9" rx="3" ry="3" fill="url(#gyb)" stroke="#d8c070" stroke-width="1" shape-rendering="geometricPrecision"/><text x="1445.5" y="709.6" text-anchor="middle" font-family="DejaVu Sans Mono, DejaVu Sans, monospace" font-size="8" fill="#2a2a2a">[]</text><rect x="1453.5" y="702.5" width="14" height="9" rx="3" ry="3" fill="url(#gyb)" stroke="#d8c070" stroke-width="1" shape-rendering="geometricPrecision"/><text x="1460.5" y="709.6" text-anchor="middle" font-family="DejaVu Sans Mono, DejaVu Sans, monospace" font-size="8" fill="#2a2a2a">x</text><text x="342" y="38.9" font-family="Liberation Sans, sans-serif" font-weight="bold" font-size="13.33" fill="#ff0000">MOV( 55 )</text><text x="419.6" y="38.9" font-family="Liberation Sans, sans-serif" font-weight="bold" font-size="13.33" fill="#ff0000">: 10.827,39</text><circle cx="515.5" cy="35.1" r="3.5" fill="#e8b818" stroke="#b0a070" stroke-width="0.5" shape-rendering="geometricPrecision"/><path d="M512.5,33.9 L514.2,32.9 L515.4,35.6 L518.5,29.6 L520.1,30.5 L515.7,38.8 Z" fill="#000" shape-rendering="geometricPrecision"/><text x="342" y="52.9" font-family="Liberation Sans, sans-serif" font-weight="bold" font-size="13.33" fill="#0000ff">MOV( 200 )</text><text x="419.6" y="52.9" font-family="Liberation Sans, sans-serif" font-weight="bold" font-size="13.33" fill="#0000ff">: 10.223,71</text><circle cx="515.5" cy="49.1" r="3.5" fill="#e8b818" stroke="#b0a070" stroke-width="0.5" shape-rendering="geometricPrecision"/><path d="M512.5,47.9 L514.2,46.9 L515.4,49.6 L518.5,43.6 L520.1,44.5 L515.7,52.8 Z" fill="#000" shape-rendering="geometricPrecision"/><text x="342" y="66.9" font-family="Liberation Sans, sans-serif" font-weight="bold" font-size="13.33" fill="#000">HLine</text><text x="419.6" y="66.9" font-family="Liberation Sans, sans-serif" font-weight="bold" font-size="13.33" fill="#000">: 9525,00</text><circle cx="515.5" cy="63.10000000000001" r="3.5" fill="#e8b818" stroke="#b0a070" stroke-width="0.5" shape-rendering="geometricPrecision"/><path d="M512.5,61.9 L514.2,60.9 L515.4,63.6 L518.5,57.6 L520.1,58.5 L515.7,66.8 Z" fill="#000" shape-rendering="geometricPrecision"/><text x="342" y="80.9" font-family="Liberation Sans, sans-serif" font-weight="bold" font-size="13.33" fill="#000">HLine</text><text x="419.6" y="80.9" font-family="Liberation Sans, sans-serif" font-weight="bold" font-size="13.33" fill="#000">: 8565,00</text><circle cx="515.5" cy="77.10000000000001" r="3.5" fill="#e8b818" stroke="#b0a070" stroke-width="0.5" shape-rendering="geometricPrecision"/><path d="M512.5,75.9 L514.2,74.9 L515.4,77.6 L518.5,71.6 L520.1,72.5 L515.7,80.8 Z" fill="#000" shape-rendering="geometricPrecision"/><text x="342" y="94.9" font-family="Liberation Sans, sans-serif" font-weight="bold" font-size="13.33" fill="#000">HLine</text><text x="419.6" y="94.9" font-family="Liberation Sans, sans-serif" font-weight="bold" font-size="13.33" fill="#000">: 9050,00</text><circle cx="515.5" cy="91.10000000000001" r="3.5" fill="#e8b818" stroke="#b0a070" stroke-width="0.5" shape-rendering="geometricPrecision"/><path d="M512.5,89.9 L514.2,88.9 L515.4,91.6 L518.5,85.6 L520.1,86.5 L515.7,94.8 Z" fill="#000" shape-rendering="geometricPrecision"/><text x="342" y="108.9" font-family="Liberation Sans, sans-serif" font-weight="bold" font-size="13.33" fill="#000">HLine</text><text x="419.6" y="108.9" font-family="Liberation Sans, sans-serif" font-weight="bold" font-size="13.33" fill="#000">: 10550,00</text><circle cx="515.5" cy="105.10000000000001" r="3.5" fill="#e8b818" stroke="#b0a070" stroke-width="0.5" shape-rendering="geometricPrecision"/><path d="M512.5,103.9 L514.2,102.9 L515.4,105.6 L518.5,99.6 L520.1,100.5 L515.7,108.8 Z" fill="#000" shape-rendering="geometricPrecision"/><text x="342" y="122.9" font-family="Liberation Sans, sans-serif" font-weight="bold" font-size="13.33" fill="#000">HLine</text><text x="419.6" y="122.9" font-family="Liberation Sans, sans-serif" font-weight="bold" font-size="13.33" fill="#000">: 9800,00</text><circle cx="515.5" cy="119.10000000000001" r="3.5" fill="#e8b818" stroke="#b0a070" stroke-width="0.5" shape-rendering="geometricPrecision"/><path d="M512.5,117.9 L514.2,116.9 L515.4,119.6 L518.5,113.6 L520.1,114.5 L515.7,122.8 Z" fill="#000" shape-rendering="geometricPrecision"/><text x="342" y="136.9" font-family="Liberation Sans, sans-serif" font-weight="bold" font-size="13.33" fill="#000">HLine</text><text x="419.6" y="136.9" font-family="Liberation Sans, sans-serif" font-weight="bold" font-size="13.33" fill="#000">: 10000,00</text><circle cx="515.5" cy="133.1" r="3.5" fill="#e8b818" stroke="#b0a070" stroke-width="0.5" shape-rendering="geometricPrecision"/><path d="M512.5,131.9 L514.2,130.9 L515.4,133.6 L518.5,127.6 L520.1,128.5 L515.7,136.8 Z" fill="#000" shape-rendering="geometricPrecision"/><text x="342" y="150.9" font-family="Liberation Sans, sans-serif" font-weight="bold" font-size="13.33" fill="#000">HLine</text><text x="419.6" y="150.9" font-family="Liberation Sans, sans-serif" font-weight="bold" font-size="13.33" fill="#000">: 8715,00</text><circle cx="515.5" cy="147.1" r="3.5" fill="#e8b818" stroke="#b0a070" stroke-width="0.5" shape-rendering="geometricPrecision"/><path d="M512.5,145.9 L514.2,144.9 L515.4,147.6 L518.5,141.6 L520.1,142.5 L515.7,150.8 Z" fill="#000" shape-rendering="geometricPrecision"/><text x="342" y="164.9" font-family="Liberation Sans, sans-serif" font-weight="bold" font-size="13.33" fill="#000">HLine</text><text x="419.6" y="164.9" font-family="Liberation Sans, sans-serif" font-weight="bold" font-size="13.33" fill="#000">: 11605,00</text><circle cx="515.5" cy="161.1" r="3.5" fill="#e8b818" stroke="#b0a070" stroke-width="0.5" shape-rendering="geometricPrecision"/><path d="M512.5,159.9 L514.2,158.9 L515.4,161.6 L518.5,155.6 L520.1,156.5 L515.7,164.8 Z" fill="#000" shape-rendering="geometricPrecision"/><text x="342" y="178.9" font-family="Liberation Sans, sans-serif" font-weight="bold" font-size="13.33" fill="#000">HLine</text><text x="419.6" y="178.9" font-family="Liberation Sans, sans-serif" font-weight="bold" font-size="13.33" fill="#000">: 9255,00</text><circle cx="515.5" cy="175.1" r="3.5" fill="#e8b818" stroke="#b0a070" stroke-width="0.5" shape-rendering="geometricPrecision"/><path d="M512.5,173.9 L514.2,172.9 L515.4,175.6 L518.5,169.6 L520.1,170.5 L515.7,178.8 Z" fill="#000" shape-rendering="geometricPrecision"/><text x="342" y="192.9" font-family="Liberation Sans, sans-serif" font-weight="bold" font-size="13.33" fill="#ff0000">HLine</text><text x="419.6" y="192.9" font-family="Liberation Sans, sans-serif" font-weight="bold" font-size="13.33" fill="#ff0000">: 10250,00</text><circle cx="515.5" cy="189.1" r="3.5" fill="#e8b818" stroke="#b0a070" stroke-width="0.5" shape-rendering="geometricPrecision"/><path d="M512.5,187.9 L514.2,186.9 L515.4,189.6 L518.5,183.6 L520.1,184.5 L515.7,192.8 Z" fill="#000" shape-rendering="geometricPrecision"/><text x="342" y="206.9" font-family="Liberation Sans, sans-serif" font-weight="bold" font-size="13.33" fill="#ff0000">HLine</text><text x="419.6" y="206.9" font-family="Liberation Sans, sans-serif" font-weight="bold" font-size="13.33" fill="#ff0000">: 11252,00</text><circle cx="515.5" cy="203.1" r="3.5" fill="#e8b818" stroke="#b0a070" stroke-width="0.5" shape-rendering="geometricPrecision"/><path d="M512.5,201.9 L514.2,200.9 L515.4,203.6 L518.5,197.6 L520.1,198.5 L515.7,206.8 Z" fill="#000" shape-rendering="geometricPrecision"/><text x="342" y="220.9" font-family="Liberation Sans, sans-serif" font-weight="bold" font-size="13.33" fill="#000">HLine</text><text x="419.6" y="220.9" font-family="Liberation Sans, sans-serif" font-weight="bold" font-size="13.33" fill="#000">: 10780,00</text><circle cx="515.5" cy="217.1" r="3.5" fill="#e8b818" stroke="#b0a070" stroke-width="0.5" shape-rendering="geometricPrecision"/><path d="M512.5,215.9 L514.2,214.9 L515.4,217.6 L518.5,211.6 L520.1,212.5 L515.7,220.8 Z" fill="#000" shape-rendering="geometricPrecision"/><text x="342" y="234.9" font-family="Liberation Sans, sans-serif" font-weight="bold" font-size="13.33" fill="#ff0000">HLine</text><text x="419.6" y="234.9" font-family="Liberation Sans, sans-serif" font-weight="bold" font-size="13.33" fill="#ff0000">: 11025,00</text><circle cx="515.5" cy="231.1" r="3.5" fill="#e8b818" stroke="#b0a070" stroke-width="0.5" shape-rendering="geometricPrecision"/><path d="M512.5,229.9 L514.2,228.9 L515.4,231.6 L518.5,225.6 L520.1,226.5 L515.7,234.8 Z" fill="#000" shape-rendering="geometricPrecision"/><text x="558" y="96.8" font-family="Liberation Sans, sans-serif" font-weight="bold" font-size="13.33" fill="#000">10.10.2025</text><text x="558" y="110.8" font-family="Liberation Sans, sans-serif" font-weight="bold" font-size="13.33" fill="#000">XU100</text><text x="558" y="124.8" font-family="Liberation Sans, sans-serif" font-weight="bold" font-size="13.33" fill="#000">Açılış</text><text x="636" y="124.8" font-family="Liberation Sans, sans-serif" font-weight="bold" font-size="13.33" fill="#000">10737,92</text><text x="558" y="138.8" font-family="Liberation Sans, sans-serif" font-weight="bold" font-size="13.33" fill="#000">Yüksek</text><text x="636" y="138.8" font-family="Liberation Sans, sans-serif" font-weight="bold" font-size="13.33" fill="#000">10784,57</text><text x="558" y="152.8" font-family="Liberation Sans, sans-serif" font-weight="bold" font-size="13.33" fill="#000">Düşük</text><text x="636" y="152.8" font-family="Liberation Sans, sans-serif" font-weight="bold" font-size="13.33" fill="#000">10654,20</text><text x="558" y="166.8" font-family="Liberation Sans, sans-serif" font-weight="bold" font-size="13.33" fill="#000">Kapanış</text><text x="636" y="166.8" font-family="Liberation Sans, sans-serif" font-weight="bold" font-size="13.33" fill="#000">10720,36</text><text x="558" y="180.8" font-family="Liberation Sans, sans-serif" font-weight="bold" font-size="13.33" fill="#000">Ö.Kap.Fark</text><text x="636" y="180.8" font-family="Liberation Sans, sans-serif" font-weight="bold" font-size="13.33" fill="#000">-6,62</text><text x="558" y="194.8" font-family="Liberation Sans, sans-serif" font-weight="bold" font-size="13.33" fill="#000">Miktar</text><text x="636" y="194.8" font-family="Liberation Sans, sans-serif" font-weight="bold" font-size="13.33" fill="#000">5940472236,00</text><text x="558" y="208.8" font-family="Liberation Sans, sans-serif" font-weight="bold" font-size="13.33" fill="#000">Değer</text><text x="636" y="208.8" font-family="Liberation Sans, sans-serif" font-weight="bold" font-size="13.33" fill="#000">11914,42</text><text x="6" y="711.7" font-family="Liberation Sans, sans-serif" font-weight="bold" font-size="13.33" fill="#ff0000">VOL (Lot)</text><text x="76" y="711.7" font-family="Liberation Sans, sans-serif" font-weight="bold" font-size="13.33" fill="#ff0000">: 5.940.472.320,00</text><circle cx="228" cy="707.7" r="3.5" fill="#e8b818" stroke="#b0a070" stroke-width="0.5" shape-rendering="geometricPrecision"/><path d="M225,706.5 L226.7,705.5 L227.9,708.2 L231,702.2 L232.6,703.1 L228.2,711.4 Z" fill="#000" shape-rendering="geometricPrecision"/></svg></body></html>
